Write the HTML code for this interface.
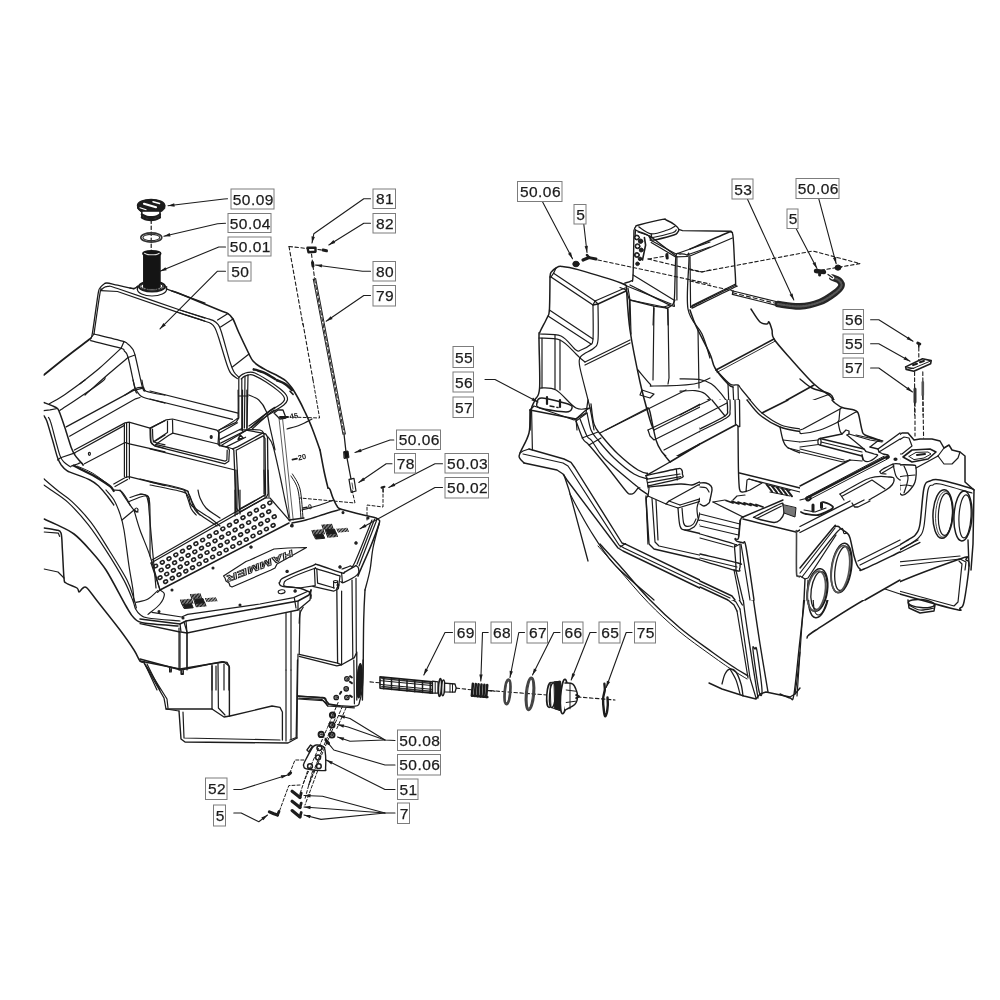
<!DOCTYPE html>
<html><head><meta charset="utf-8"><title>Parts diagram</title>
<style>
html,body{margin:0;padding:0;background:#fff}
svg{display:block;filter:grayscale(1)}
text{font-family:"Liberation Sans",sans-serif;font-size:15.5px;fill:#1c1c1c}
.lb text{letter-spacing:0.45px;stroke:#1c1c1c;stroke-width:0.25px}
.lb rect{stroke-linejoin:miter}
path,ellipse,rect{stroke-linejoin:round;stroke-linecap:round}
</style></head><body>
<svg width="1000" height="1000" viewBox="0 0 1000 1000">
<rect x="0" y="0" width="1000" height="1000" fill="#fff" stroke="none"/>
<g>
<path d="M43.8 375 C47.3 372.2 58.6 363 65 358 C71.4 353 77.7 348.2 82 345 C86.3 341.8 89.2 339.6 90.6 338.5" fill="none" stroke="#1c1c1c" stroke-width="1.8"/>
<path d="M90.6 338.5 C90.9 337.5 91.2 340 92.5 332.5 C93.8 325 96.9 301.1 98.1 293.8 C99.4 286.4 99.2 289.6 100 288.1 C100.8 286.6 102 285.6 103.1 284.8 C104.3 283.9 104.5 282.9 106.9 283 C109.3 283.1 113 284.3 117.5 285.2 C122 286.2 131 288.2 133.8 288.8" fill="none" stroke="#1c1c1c" stroke-width="1.3"/>
<path d="M166.2 288.8 L205 303.1" fill="none" stroke="#1c1c1c" stroke-width="1.3"/>
<path d="M94 334 C95 327.2 98.7 300.6 100 293.1 C101.3 285.7 101 290.4 101.9 289.4 C102.7 288.4 103.9 287.5 105 287 C106.1 286.5 106.7 286.1 108.8 286.4 C110.8 286.6 105.6 284.6 117.5 288.5 C129.4 292.4 165.4 305.1 180 310 C194.6 314.9 200.8 316.8 205 318.1" fill="none" stroke="#1c1c1c" stroke-width="1.2"/>
<path d="M101 290.6 L117.5 291.5 L180 313.1 L205 321.2" fill="none" stroke="#1c1c1c" stroke-width="1.2"/>
<path d="M94 334 C98.8 335.2 116.9 339.6 122.5 341.2 C128.1 342.9 125.9 342.6 127.5 343.8 C129.1 344.9 130.6 346.2 131.9 348.1 C133.1 350 133.2 348.4 135 355 C136.8 361.6 140.8 381.6 142.5 387.5 C144.2 393.4 144.6 390.1 145 390.6" fill="none" stroke="#1c1c1c" stroke-width="1.2"/>
<path d="M90.6 340.6 C95.6 341.9 115 346.4 120.6 348.1 C126.2 349.9 123.1 349.7 124.4 351.2 C125.6 352.8 126.4 351.2 128.1 357.5 C129.9 363.8 133.5 382.8 135 388.8 C136.5 394.7 136.6 392.4 136.9 393.1" fill="none" stroke="#1c1c1c" stroke-width="1.2"/>
<path d="M123.8 341.9 L121.2 348.1" fill="none" stroke="#1c1c1c" stroke-width="1.2"/>
<path d="M135 355 L128.1 357.5" fill="none" stroke="#1c1c1c" stroke-width="1.2"/>
<path d="M90.6 338.5 L94 334" fill="none" stroke="#1c1c1c" stroke-width="1.2"/>
<path d="M80 383.8 C83.1 381.2 91.9 374.7 98.8 368.8 C105.6 362.8 117.5 351.6 121.2 348.1" fill="none" stroke="#1c1c1c" stroke-width="1.2"/>
<path d="M85 395 C89 391.5 101.6 380 108.8 373.8 C115.9 367.5 124.9 360.2 128.1 357.5" fill="none" stroke="#1c1c1c" stroke-width="1.2"/>
<path d="M125 395 C126.7 394 132.1 390 135 388.8 C137.9 387.5 140.8 387.2 142.5 387.5 C144.2 387.8 144.6 390.1 145 390.6" fill="none" stroke="#1c1c1c" stroke-width="1.2"/>
<path d="M172 291 C173.3 291.5 172.2 290.6 180 293.8 C187.8 297 211 306.7 219 310 C227 313.3 225.7 312.1 228 313.6 C230.3 315.1 231.2 315.8 233 319 C234.8 322.2 236.3 327.2 239 333 C241.7 338.8 246.7 349.3 249 354 C251.3 358.7 251.3 359 253 361 C254.7 363 256.5 364.3 259 366 C261.5 367.7 264.8 369.3 268 371 C271.2 372.7 275 374.3 278 376 C281 377.7 283.7 379 286 381 C288.3 383 290 385.2 292 388 C294 390.8 295.8 394 298 398 C300.2 402 302.7 407 305 412 C307.3 417 309.5 421.7 312 428 C314.5 434.3 318.7 446.3 320 450" fill="none" stroke="#1c1c1c" stroke-width="1.6"/>
<path d="M180 310 C184.2 311.3 199.5 316.1 205 317.8 C210.5 319.5 210.8 319.3 213 320.4 C215.2 321.5 216.6 322.5 218 324.4 C219.4 326.3 219.4 325.7 221.4 332 C223.4 338.3 227.9 355.3 230 362 C232.1 368.7 232.5 369.4 234 372 C235.5 374.6 238.2 376.5 239 377.4" fill="none" stroke="#1c1c1c" stroke-width="1.2"/>
<path d="M180 313 C184.2 314.4 199.8 319.4 205 321.2 C210.2 323 209.3 322.5 211 323.6 C212.7 324.7 213.8 325.8 215 328 C216.2 330.2 216.3 330.7 218.4 337 C220.5 343.3 225.2 359.8 227.4 366 C229.6 372.2 229.7 371.9 231.4 374 C233.1 376.1 236.4 377.8 237.4 378.6" fill="none" stroke="#1c1c1c" stroke-width="1.2"/>
<path d="M228 313.6 L217.6 320" fill="none" stroke="#1c1c1c" stroke-width="1.2"/>
<path d="M233 319 L220.6 327" fill="none" stroke="#1c1c1c" stroke-width="1.2"/>
<path d="M249 354 L232.4 367" fill="none" stroke="#1c1c1c" stroke-width="1.2"/>
<path d="M238.8 377.4 C239.4 376.9 240.9 375.2 242.4 374.4 C243.9 373.6 245.9 372.6 248 372.4 C250.1 372.2 251.8 371.7 255 373 C258.2 374.3 263.2 377.4 267.4 380 C271.6 382.6 276.9 386.3 280 388.8 C283.1 391.3 285 393.1 286.2 395 C287.4 396.9 287.8 398.3 287.4 400 C287 401.7 286.7 402.7 283.8 405 C280.9 407.3 272.3 412.3 270 413.8" fill="none" stroke="#1c1c1c" stroke-width="1.2"/>
<path d="M241.2 379 C241.7 378.6 243.1 377.1 244.4 376.4 C245.7 375.7 247.3 374.9 249 374.8 C250.7 374.7 251.6 374.4 254.4 375.6 C257.2 376.8 262.1 379.5 266 382 C269.9 384.5 275.1 388.3 278 390.6 C280.9 392.9 282.3 394.4 283.4 396 C284.5 397.6 284.8 398.7 284.4 400 C284 401.3 283.6 402.1 281 404 C278.4 405.9 271 410.3 269 411.6" fill="none" stroke="#1c1c1c" stroke-width="1.2"/>
<path d="M238.8 378 L238.8 418 L236 422.4 L219 430 L218 444" fill="none" stroke="#1c1c1c" stroke-width="1.2"/>
<path d="M241.8 379 L241.8 430" fill="none" stroke="#1c1c1c" stroke-width="1.2"/>
<path d="M245 376.4 L244.4 428" fill="none" stroke="#1c1c1c" stroke-width="1.2"/>
<path d="M248 374.8 L247 428" fill="none" stroke="#1c1c1c" stroke-width="1.2"/>
<path d="M238.8 396 L248 396" fill="none" stroke="#1c1c1c" stroke-width="1.2"/>
<path d="M270 413.8 L247 430 L222 445" fill="none" stroke="#1c1c1c" stroke-width="1.2"/>
<path d="M269 411.6 L249 426" fill="none" stroke="#1c1c1c" stroke-width="1.2"/>
<path d="M43.8 402.5 C45.1 403 49.6 404.6 51.9 405.6 C54.2 406.6 56.2 407.2 57.5 408.5 C58.8 409.8 58.5 409.9 59.8 413.1 C61 416.4 63.1 422.4 65 428.1 C66.9 433.9 69.6 443.1 71.2 447.5 C72.9 451.9 73.3 452.5 74.8 454.8 C76.2 457 78.4 459.3 79.8 461 C81.1 462.7 82.6 464.3 83.1 465" fill="none" stroke="#1c1c1c" stroke-width="1.5"/>
<path d="M43.8 410.6 L50 409.8 L57.5 408.5" fill="none" stroke="#1c1c1c" stroke-width="1.2"/>
<path d="M43.8 415.6 C44.3 416.6 45.4 417.2 46.9 421.2 C48.3 425.3 50.7 434 52.5 440 C54.3 446 56 453.3 57.5 457.5 C59 461.7 59.7 462.8 61.2 465 C62.8 467.2 65 469.3 66.9 470.6 C68.8 472 68.6 471.6 72.5 473.1 C76.4 474.7 85.6 477.8 90 480 C94.4 482.2 95.8 483.5 98.8 486.2 C101.7 489 105 493.1 107.5 496.2 C110 499.4 112.7 503.5 113.8 505" fill="none" stroke="#1c1c1c" stroke-width="1.4"/>
<path d="M48.5 417.5 C48.9 418.2 49.5 418.3 50.6 421.9 C51.8 425.4 53.7 433.1 55.2 438.8 C56.8 444.4 58.6 451.8 60 455.6 C61.4 459.5 62 460 63.8 461.9 C65.5 463.8 69.5 466 70.6 466.9" fill="none" stroke="#1c1c1c" stroke-width="1.2"/>
<path d="M57.5 460 L60.6 457.8 L75 452.9" fill="none" stroke="#1c1c1c" stroke-width="1.2"/>
<path d="M49.4 403.8 C52 402.2 59.1 398.3 65 394.4 C70.9 390.4 81.7 382.4 85 380" fill="none" stroke="#1c1c1c" stroke-width="1.2"/>
<path d="M59.8 410.6 C63.3 408.2 74.1 401.1 81.2 396.2 C88.4 391.4 98.5 384.4 102.5 381.2 C106.5 378.1 104.6 378.1 105 377.5" fill="none" stroke="#1c1c1c" stroke-width="1.2"/>
<path d="M66.2 426.9 L133.1 390.6 L143.8 387.8" fill="none" stroke="#1c1c1c" stroke-width="1.2"/>
<path d="M69.6 436.2 L135.6 398.8 L140 397.5" fill="none" stroke="#1c1c1c" stroke-width="1.2"/>
<path d="M133.1 380 C133.4 381.2 134.1 385.2 135 387.5 C135.9 389.8 137.3 392.1 138.8 393.8 C140.2 395.4 139.4 395.9 143.8 397.5 C148.1 399.1 161.5 402.2 165 403.1" fill="none" stroke="#1c1c1c" stroke-width="1.2"/>
<path d="M141.9 380 C142.1 381.2 142.8 385.6 143.5 387.5 C144.2 389.4 142.7 390 146.2 391.2 C149.8 392.5 161.9 394.6 165 395.2" fill="none" stroke="#1c1c1c" stroke-width="1.2"/>
<path d="M74.4 450 L125 422.9 L129 422.2 L150 428.1 L165 420.6" fill="none" stroke="#1c1c1c" stroke-width="1.2"/>
<path d="M75.2 452.5 L124 425.6" fill="none" stroke="#1c1c1c" stroke-width="1.2"/>
<path d="M124.4 423.8 L124.4 476.5" fill="none" stroke="#1c1c1c" stroke-width="1.2"/>
<path d="M126.6 423.1 L126.6 477.5" fill="none" stroke="#1c1c1c" stroke-width="1.2"/>
<path d="M129.4 423.1 L129.4 478.8" fill="none" stroke="#1c1c1c" stroke-width="1.2"/>
<path d="M84.4 463.8 L125 442.5 L129.4 443.8 L165 451.9" fill="none" stroke="#1c1c1c" stroke-width="1.2"/>
<path d="M113.8 484 L126.2 476.9 L130 476.9 L165 485.6" fill="none" stroke="#1c1c1c" stroke-width="1.2"/>
<path d="M115 486.5 L127.5 479.5" fill="none" stroke="#1c1c1c" stroke-width="1.2"/>
<ellipse cx="89.4" cy="453.8" rx="1" ry="1.5" fill="none" stroke="#1c1c1c" stroke-width="1.2"/>
<path d="M150 428.1 C150.1 430.3 150 438.4 150.6 441.2 C151.2 444.1 151.4 443.8 153.8 445 C156.1 446.2 163.1 447.9 165 448.5" fill="none" stroke="#1c1c1c" stroke-width="1.2"/>
<path d="M152.5 429 C152.6 430.8 152.6 437.8 153.1 440 C153.6 442.2 153.6 441.7 155.6 442.5 C157.6 443.3 163.4 444.4 165 444.8" fill="none" stroke="#1c1c1c" stroke-width="1.2"/>
<path d="M165 435 L155 441.2" fill="none" stroke="#1c1c1c" stroke-width="1.2"/>
<path d="M73.5 465.6 C74.8 466.2 78.1 467.8 81.2 469.4 C84.4 470.9 89.6 473.4 92.5 475 C95.4 476.6 95.8 476.9 98.8 478.8 C101.7 480.6 107.5 484.2 110 486.2 C112.5 488.3 113.1 490.2 113.8 491" fill="none" stroke="#1c1c1c" stroke-width="2.2"/>
<path d="M71.2 466.2 C72.3 465.9 75.8 464.6 77.5 464 C79.2 463.4 80.3 462.3 81.2 462.5 C82.2 462.7 82.8 464.6 83.1 465" fill="none" stroke="#1c1c1c" stroke-width="1.2"/>
<path d="M77.5 466.2 C80 467.4 87.5 470.2 92.5 473.1 C97.5 476 105 482 107.5 483.8" fill="none" stroke="#1c1c1c" stroke-width="1.0"/>
<path d="M113.8 490 C115 490.2 119 489.6 121.2 491.2 C123.5 492.9 126 497.7 127.5 500 C129 502.3 129.6 504.2 130 505" fill="none" stroke="#1c1c1c" stroke-width="1.2"/>
<path d="M130 497.5 C131.7 497 137.3 494.7 140 494.4 C142.7 494.1 144.8 493.9 146.2 495.6 C147.7 497.4 148.3 503.4 148.8 505" fill="none" stroke="#1c1c1c" stroke-width="1.2"/>
<path d="M150 391 L238.1 413.1" fill="none" stroke="#1c1c1c" stroke-width="1.2"/>
<path d="M150 399 L232.5 419.4" fill="none" stroke="#1c1c1c" stroke-width="1.2"/>
<path d="M238.1 390 C238.1 394.1 238.4 409.5 238.1 414.4 C237.8 419.3 239.5 416.7 236.2 419.4 C233 422 221.7 428.4 218.8 430.2" fill="none" stroke="#1c1c1c" stroke-width="1.2"/>
<path d="M242.5 390 L242.5 431.2" fill="none" stroke="#1c1c1c" stroke-width="1.2"/>
<path d="M246.9 390 L246.9 430" fill="none" stroke="#1c1c1c" stroke-width="1.2"/>
<path d="M150.6 428.1 L166.2 419.8 L172.5 419 L216.9 430.2 L219 432.5 L219.4 445.6" fill="none" stroke="#1c1c1c" stroke-width="1.2"/>
<path d="M150.6 428.1 L151 442.5 L155 446.2 L225 463.8 L228.8 461.2 L229.4 449.8 L227.5 447.5 L219.4 445.6" fill="none" stroke="#1c1c1c" stroke-width="1.2"/>
<path d="M167.5 421.2 L167.5 432.5 L153.1 441.9" fill="none" stroke="#1c1c1c" stroke-width="1.2"/>
<path d="M172.5 420 L172.8 433.1 L218.1 444 L219.4 445.6" fill="none" stroke="#1c1c1c" stroke-width="1.2"/>
<path d="M172.8 433.1 L168.8 435.2 L155.6 444.4 L225 461.2 L226.9 460 L227.2 450" fill="none" stroke="#1c1c1c" stroke-width="1.2"/>
<ellipse cx="211.2" cy="437.1" rx="1" ry="1.4" fill="#333" stroke="#1c1c1c" stroke-width="1.2"/>
<path d="M150 448.8 L235 470" fill="none" stroke="#1c1c1c" stroke-width="1.2"/>
<path d="M232.5 448.8 L237.5 446.9 L262.5 433.1 L265.6 433.8 L267.5 436.9 L268.1 493.8 L266.2 497.5 L240 511.9 L237.5 510 L236.2 507.5 L233.8 450 L232.5 448.8" fill="none" stroke="#1c1c1c" stroke-width="1.3"/>
<path d="M236.2 450.2 L263.1 435.9 L265 438.4 L265.6 494.8 L239.4 509.1 L236.2 450.2" fill="none" stroke="#1c1c1c" stroke-width="1.2"/>
<path d="M220 445 L232.5 448.8" fill="none" stroke="#1c1c1c" stroke-width="1.2"/>
<path d="M219.4 433.1 L237.5 422.8" fill="none" stroke="#1c1c1c" stroke-width="1.2"/>
<path d="M220 439.4 L241.9 428.5" fill="none" stroke="#1c1c1c" stroke-width="1.2"/>
<path d="M220.6 443.1 L246.2 430.2 L262.5 433.1" fill="none" stroke="#1c1c1c" stroke-width="1.2"/>
<path d="M226.2 446.9 L245.6 437.2" fill="none" stroke="#1c1c1c" stroke-width="1.2"/>
<path d="M238.1 439.4 L240.2 435 L243.1 438.1 L238.1 439.4" fill="none" stroke="#1c1c1c" stroke-width="1.5"/>
<path d="M248.8 395 C250.4 395.8 255.8 397.3 258.8 400 C261.7 402.7 264.4 406.7 266.2 411.2 C268.1 415.8 268.5 421 270 427.5 C271.5 434 274.2 446.2 275 450" fill="none" stroke="#1c1c1c" stroke-width="1.2"/>
<path d="M251.2 427.5 C253.1 425.7 259.4 419.7 262.5 416.9 C265.6 414.1 267.9 412.2 270 410.6 C272.1 409.1 274.2 408 275 407.5" fill="none" stroke="#1c1c1c" stroke-width="1.6"/>
<path d="M252.5 428.8 C254.4 427 260.7 421.2 263.8 418.5 C266.8 415.8 268.8 413.9 270.6 412.5 C272.5 411.1 274.3 410.4 275 410" fill="none" stroke="#1c1c1c" stroke-width="1.2"/>
<path d="M150 481.9 C155.6 483.2 177.3 488 183.8 490 C190.2 492 187.3 491.7 188.8 493.8 C190.2 495.8 191 499.5 192.5 502.5 C194 505.5 196.2 509.8 197.5 511.9 C198.8 514 199.6 514.5 200 515" fill="none" stroke="#1c1c1c" stroke-width="1.2"/>
<path d="M150 485 C155.4 486.1 176.4 490 182.5 491.9 C188.6 493.8 185.4 493.4 186.9 496.2 C188.3 499.1 189.7 505.6 191.2 508.8 C192.8 511.9 195.4 514 196.2 515" fill="none" stroke="#1c1c1c" stroke-width="1.2"/>
<path d="M43.8 485 C45 485.8 47 487.1 51 490 C55 492.9 61.8 496.7 68 502.4 C74.2 508.1 81.7 516.4 88 524.4 C94.3 532.4 100 541.1 106 550.4 C112 559.7 119.5 572 124 580.4 C128.5 588.8 131.1 596.2 133 601 C134.9 605.8 134.4 606.8 135.6 609 C136.8 611.2 137.9 612.9 140 614.4 C142.1 615.9 141.3 616.9 148 618 C154.7 619.1 174.7 620.5 180 621" fill="none" stroke="#1c1c1c" stroke-width="1.2"/>
<path d="M43.8 478.8 C46 480.7 52.3 486.2 57 490 C61.7 493.8 66.3 496.2 72 501.6 C77.7 507 84.8 514.3 91 522.4 C97.2 530.5 103 540.4 109 550 C115 559.6 122.8 571.8 127 580 C131.2 588.2 132.4 594.3 134 599 C135.6 603.7 136 606.5 136.4 608" fill="none" stroke="#1c1c1c" stroke-width="1.2"/>
<path d="M44 519 C46 519.9 51 521.9 56 524.4 C61 526.9 68.3 529.7 74 534 C79.7 538.3 84.7 544 90 550 C95.3 556 100 560.7 106 570 C112 579.3 121.3 598 126 606 C130.7 614 131 615.2 134 618 C137 620.8 136.7 621.7 144 623 C151.3 624.3 172.3 625.5 178 626" fill="none" stroke="#1c1c1c" stroke-width="1.6"/>
<path d="M184 622 L187 632" fill="none" stroke="#1c1c1c" stroke-width="1.2"/>
<path d="M44 528 C46 528.3 53.2 529.2 56 530 C58.8 530.8 59.9 529.7 61 533 C62.1 536.3 61.9 542.5 62.4 550 C62.9 557.5 63.4 572.5 64 578 C64.6 583.5 63.8 581.3 66 583 C68.2 584.7 74.8 586.5 77 588 C79.2 589.5 78 592 79 592 C80 592 81.7 588.7 83 588 C84.3 587.3 84.5 585.7 87 588 C89.5 590.3 92.5 595 98 602 C103.5 609 114 622 120 630 C126 638 130.7 644.8 134 650 C137.3 655.2 138.3 659 140 661 C141.7 663 143.3 661.8 144 662" fill="none" stroke="#1c1c1c" stroke-width="1.5"/>
<path d="M44 532 L58.4 533.2 L59.6 536.4" fill="none" stroke="#1c1c1c" stroke-width="1.2"/>
<path d="M44 569 L58 572 L64 578" fill="none" stroke="#1c1c1c" stroke-width="1.2"/>
<path d="M140 661 L180 669 L210 664 L224 662 L229 666 L229 690" fill="none" stroke="#1c1c1c" stroke-width="1.3"/>
<path d="M144 662 L157 690" fill="none" stroke="#1c1c1c" stroke-width="1.2"/>
<path d="M147 664 L160 690" fill="none" stroke="#1c1c1c" stroke-width="1.2"/>
<path d="M179 628 L179 670" fill="none" stroke="#1c1c1c" stroke-width="1.2"/>
<path d="M187 632.4 L187 668" fill="none" stroke="#1c1c1c" stroke-width="1.2"/>
<path d="M169.6 667.6 L169.6 671 L171.2 671 L171.2 668" fill="none" stroke="#1c1c1c" stroke-width="1.2"/>
<path d="M181.2 670 L181.2 673.6 L183.2 673.6 L183.2 670.4" fill="none" stroke="#1c1c1c" stroke-width="1.2"/>
<path d="M212 666 L212 690" fill="none" stroke="#1c1c1c" stroke-width="1.2"/>
<path d="M216 666 L216 690" fill="none" stroke="#1c1c1c" stroke-width="1.2"/>
<path d="M224 664 L224 690" fill="none" stroke="#1c1c1c" stroke-width="1.2"/>
<path d="M106 490 C107.3 491.7 111.7 496 114 500 C116.3 504 118.3 509 120 514 C121.7 519 122.5 521.3 124 530 C125.5 538.7 127.5 556 129 566 C130.5 576 132.2 584 133 590 C133.8 596 133.8 600 134 602" fill="none" stroke="#1c1c1c" stroke-width="1.2"/>
<path d="M120 490 C121.3 492 125.7 498.7 128 502 C130.3 505.3 132.3 508.3 134 510 C135.7 511.7 137.3 511.7 138 512" fill="none" stroke="#1c1c1c" stroke-width="1.2"/>
<path d="M134 510 C135 513.3 137.3 522.3 140 530 C142.7 537.7 146.7 546 150 556 C153.3 566 158.3 584.3 160 590" fill="none" stroke="#1c1c1c" stroke-width="1.2"/>
<path d="M122 520 L134 510" fill="none" stroke="#1c1c1c" stroke-width="1.2"/>
<path d="M128 502 C130.7 501 140.5 496.5 144 496 C147.5 495.5 148 496 149 499 C150 502 149.8 504.5 150 514 C150.2 523.5 150 549 150 556" fill="none" stroke="#1c1c1c" stroke-width="1.2"/>
<ellipse cx="136.4" cy="510" rx="1.6" ry="2" fill="none" stroke="#1c1c1c" stroke-width="1.2"/>
<path d="M160 590 C160.7 590.7 164.4 591.7 164.4 594 C164.4 596.3 162.7 600.6 160 604 C157.3 607.4 150 612.7 148 614.4" fill="none" stroke="#1c1c1c" stroke-width="1.2"/>
<path d="M136 602.4 C138 601.8 144.3 601 148 599 C151.7 597 156.3 591.8 158 590.4" fill="none" stroke="#1c1c1c" stroke-width="1.2"/>
<path d="M184 490 C184.8 491.3 187.7 495.3 189 498 C190.3 500.7 188.5 502.7 192 506 C195.5 509.3 205.3 514.7 210 518 C214.7 521.3 218.3 524.7 220 526" fill="none" stroke="#1c1c1c" stroke-width="1.2"/>
<path d="M198 490 C198.3 491.3 198.7 495 200 498 C201.3 501 202.7 504.7 206 508 C209.3 511.3 217.7 516.3 220 518" fill="none" stroke="#1c1c1c" stroke-width="1.2"/>
<path d="M235 490 L235 516" fill="none" stroke="#1c1c1c" stroke-width="1.2"/>
<path d="M240 490 L240 514" fill="none" stroke="#1c1c1c" stroke-width="1.2"/>
<path d="M151 563 L265 498 L270 498 L290 521" fill="none" stroke="#1c1c1c" stroke-width="1.2"/>
<path d="M152 560 L264 495.6" fill="none" stroke="#1c1c1c" stroke-width="1.2"/>
<path d="M160 590 L289 523" fill="none" stroke="#1c1c1c" stroke-width="1.6"/>
<path d="M151 563 L160 590" fill="none" stroke="#1c1c1c" stroke-width="1.2"/>
<path d="M157.6 592.4 L160 590" fill="none" stroke="#1c1c1c" stroke-width="1.2"/>
<ellipse cx="155.6" cy="566" rx="2" ry="1.6" fill="none" stroke="#222" stroke-width="1.6" transform="rotate(-28 155.6 566)"/>
<ellipse cx="162.3" cy="562.3" rx="2" ry="1.6" fill="none" stroke="#222" stroke-width="1.6" transform="rotate(-28 162.3 562.3)"/>
<ellipse cx="169" cy="558.6" rx="2" ry="1.6" fill="none" stroke="#222" stroke-width="1.6" transform="rotate(-28 169 558.6)"/>
<ellipse cx="175.8" cy="554.8" rx="2" ry="1.6" fill="none" stroke="#222" stroke-width="1.6" transform="rotate(-28 175.8 554.8)"/>
<ellipse cx="182.5" cy="551.1" rx="2" ry="1.6" fill="none" stroke="#222" stroke-width="1.6" transform="rotate(-28 182.5 551.1)"/>
<ellipse cx="189.2" cy="547.4" rx="2" ry="1.6" fill="none" stroke="#222" stroke-width="1.6" transform="rotate(-28 189.2 547.4)"/>
<ellipse cx="195.9" cy="543.7" rx="2" ry="1.6" fill="none" stroke="#222" stroke-width="1.6" transform="rotate(-28 195.9 543.7)"/>
<ellipse cx="202.6" cy="540" rx="2" ry="1.6" fill="none" stroke="#222" stroke-width="1.6" transform="rotate(-28 202.6 540)"/>
<ellipse cx="209.4" cy="536.2" rx="2" ry="1.6" fill="none" stroke="#222" stroke-width="1.6" transform="rotate(-28 209.4 536.2)"/>
<ellipse cx="216.1" cy="532.5" rx="2" ry="1.6" fill="none" stroke="#222" stroke-width="1.6" transform="rotate(-28 216.1 532.5)"/>
<ellipse cx="222.8" cy="528.8" rx="2" ry="1.6" fill="none" stroke="#222" stroke-width="1.6" transform="rotate(-28 222.8 528.8)"/>
<ellipse cx="229.5" cy="525.1" rx="2" ry="1.6" fill="none" stroke="#222" stroke-width="1.6" transform="rotate(-28 229.5 525.1)"/>
<ellipse cx="236.2" cy="521.4" rx="2" ry="1.6" fill="none" stroke="#222" stroke-width="1.6" transform="rotate(-28 236.2 521.4)"/>
<ellipse cx="243" cy="517.6" rx="2" ry="1.6" fill="none" stroke="#222" stroke-width="1.6" transform="rotate(-28 243 517.6)"/>
<ellipse cx="249.7" cy="513.9" rx="2" ry="1.6" fill="none" stroke="#222" stroke-width="1.6" transform="rotate(-28 249.7 513.9)"/>
<ellipse cx="256.4" cy="510.2" rx="2" ry="1.6" fill="none" stroke="#222" stroke-width="1.6" transform="rotate(-28 256.4 510.2)"/>
<ellipse cx="263.1" cy="506.5" rx="2" ry="1.6" fill="none" stroke="#222" stroke-width="1.6" transform="rotate(-28 263.1 506.5)"/>
<ellipse cx="269.8" cy="502.8" rx="2" ry="1.6" fill="none" stroke="#222" stroke-width="1.6" transform="rotate(-28 269.8 502.8)"/>
<ellipse cx="161.2" cy="570" rx="2" ry="1.6" fill="none" stroke="#222" stroke-width="1.6" transform="rotate(-28 161.2 570)"/>
<ellipse cx="167.9" cy="566.4" rx="2" ry="1.6" fill="none" stroke="#222" stroke-width="1.6" transform="rotate(-28 167.9 566.4)"/>
<ellipse cx="174.6" cy="562.7" rx="2" ry="1.6" fill="none" stroke="#222" stroke-width="1.6" transform="rotate(-28 174.6 562.7)"/>
<ellipse cx="181.4" cy="559" rx="2" ry="1.6" fill="none" stroke="#222" stroke-width="1.6" transform="rotate(-28 181.4 559)"/>
<ellipse cx="188.1" cy="555.4" rx="2" ry="1.6" fill="none" stroke="#222" stroke-width="1.6" transform="rotate(-28 188.1 555.4)"/>
<ellipse cx="194.8" cy="551.8" rx="2" ry="1.6" fill="none" stroke="#222" stroke-width="1.6" transform="rotate(-28 194.8 551.8)"/>
<ellipse cx="201.5" cy="548.1" rx="2" ry="1.6" fill="none" stroke="#222" stroke-width="1.6" transform="rotate(-28 201.5 548.1)"/>
<ellipse cx="208.2" cy="544.5" rx="2" ry="1.6" fill="none" stroke="#222" stroke-width="1.6" transform="rotate(-28 208.2 544.5)"/>
<ellipse cx="215" cy="540.8" rx="2" ry="1.6" fill="none" stroke="#222" stroke-width="1.6" transform="rotate(-28 215 540.8)"/>
<ellipse cx="221.7" cy="537.1" rx="2" ry="1.6" fill="none" stroke="#222" stroke-width="1.6" transform="rotate(-28 221.7 537.1)"/>
<ellipse cx="228.4" cy="533.5" rx="2" ry="1.6" fill="none" stroke="#222" stroke-width="1.6" transform="rotate(-28 228.4 533.5)"/>
<ellipse cx="235.1" cy="529.9" rx="2" ry="1.6" fill="none" stroke="#222" stroke-width="1.6" transform="rotate(-28 235.1 529.9)"/>
<ellipse cx="241.8" cy="526.2" rx="2" ry="1.6" fill="none" stroke="#222" stroke-width="1.6" transform="rotate(-28 241.8 526.2)"/>
<ellipse cx="248.6" cy="522.5" rx="2" ry="1.6" fill="none" stroke="#222" stroke-width="1.6" transform="rotate(-28 248.6 522.5)"/>
<ellipse cx="255.3" cy="518.9" rx="2" ry="1.6" fill="none" stroke="#222" stroke-width="1.6" transform="rotate(-28 255.3 518.9)"/>
<ellipse cx="262" cy="515.2" rx="2" ry="1.6" fill="none" stroke="#222" stroke-width="1.6" transform="rotate(-28 262 515.2)"/>
<ellipse cx="268.7" cy="511.6" rx="2" ry="1.6" fill="none" stroke="#222" stroke-width="1.6" transform="rotate(-28 268.7 511.6)"/>
<ellipse cx="160" cy="577.6" rx="2" ry="1.6" fill="none" stroke="#222" stroke-width="1.6" transform="rotate(-28 160 577.6)"/>
<ellipse cx="166.7" cy="574" rx="2" ry="1.6" fill="none" stroke="#222" stroke-width="1.6" transform="rotate(-28 166.7 574)"/>
<ellipse cx="173.4" cy="570.4" rx="2" ry="1.6" fill="none" stroke="#222" stroke-width="1.6" transform="rotate(-28 173.4 570.4)"/>
<ellipse cx="180.2" cy="566.9" rx="2" ry="1.6" fill="none" stroke="#222" stroke-width="1.6" transform="rotate(-28 180.2 566.9)"/>
<ellipse cx="186.9" cy="563.3" rx="2" ry="1.6" fill="none" stroke="#222" stroke-width="1.6" transform="rotate(-28 186.9 563.3)"/>
<ellipse cx="193.6" cy="559.7" rx="2" ry="1.6" fill="none" stroke="#222" stroke-width="1.6" transform="rotate(-28 193.6 559.7)"/>
<ellipse cx="200.3" cy="556.1" rx="2" ry="1.6" fill="none" stroke="#222" stroke-width="1.6" transform="rotate(-28 200.3 556.1)"/>
<ellipse cx="207" cy="552.5" rx="2" ry="1.6" fill="none" stroke="#222" stroke-width="1.6" transform="rotate(-28 207 552.5)"/>
<ellipse cx="213.8" cy="549" rx="2" ry="1.6" fill="none" stroke="#222" stroke-width="1.6" transform="rotate(-28 213.8 549)"/>
<ellipse cx="220.5" cy="545.4" rx="2" ry="1.6" fill="none" stroke="#222" stroke-width="1.6" transform="rotate(-28 220.5 545.4)"/>
<ellipse cx="227.2" cy="541.8" rx="2" ry="1.6" fill="none" stroke="#222" stroke-width="1.6" transform="rotate(-28 227.2 541.8)"/>
<ellipse cx="233.9" cy="538.2" rx="2" ry="1.6" fill="none" stroke="#222" stroke-width="1.6" transform="rotate(-28 233.9 538.2)"/>
<ellipse cx="240.6" cy="534.6" rx="2" ry="1.6" fill="none" stroke="#222" stroke-width="1.6" transform="rotate(-28 240.6 534.6)"/>
<ellipse cx="247.4" cy="531.1" rx="2" ry="1.6" fill="none" stroke="#222" stroke-width="1.6" transform="rotate(-28 247.4 531.1)"/>
<ellipse cx="254.1" cy="527.5" rx="2" ry="1.6" fill="none" stroke="#222" stroke-width="1.6" transform="rotate(-28 254.1 527.5)"/>
<ellipse cx="260.8" cy="523.9" rx="2" ry="1.6" fill="none" stroke="#222" stroke-width="1.6" transform="rotate(-28 260.8 523.9)"/>
<ellipse cx="267.5" cy="520.3" rx="2" ry="1.6" fill="none" stroke="#222" stroke-width="1.6" transform="rotate(-28 267.5 520.3)"/>
<ellipse cx="274.2" cy="516.7" rx="2" ry="1.6" fill="none" stroke="#222" stroke-width="1.6" transform="rotate(-28 274.2 516.7)"/>
<ellipse cx="165.6" cy="581.6" rx="2" ry="1.6" fill="none" stroke="#222" stroke-width="1.6" transform="rotate(-28 165.6 581.6)"/>
<ellipse cx="172.3" cy="578.1" rx="2" ry="1.6" fill="none" stroke="#222" stroke-width="1.6" transform="rotate(-28 172.3 578.1)"/>
<ellipse cx="179" cy="574.6" rx="2" ry="1.6" fill="none" stroke="#222" stroke-width="1.6" transform="rotate(-28 179 574.6)"/>
<ellipse cx="185.8" cy="571.1" rx="2" ry="1.6" fill="none" stroke="#222" stroke-width="1.6" transform="rotate(-28 185.8 571.1)"/>
<ellipse cx="192.5" cy="567.6" rx="2" ry="1.6" fill="none" stroke="#222" stroke-width="1.6" transform="rotate(-28 192.5 567.6)"/>
<ellipse cx="199.2" cy="564" rx="2" ry="1.6" fill="none" stroke="#222" stroke-width="1.6" transform="rotate(-28 199.2 564)"/>
<ellipse cx="205.9" cy="560.5" rx="2" ry="1.6" fill="none" stroke="#222" stroke-width="1.6" transform="rotate(-28 205.9 560.5)"/>
<ellipse cx="212.6" cy="557" rx="2" ry="1.6" fill="none" stroke="#222" stroke-width="1.6" transform="rotate(-28 212.6 557)"/>
<ellipse cx="219.4" cy="553.5" rx="2" ry="1.6" fill="none" stroke="#222" stroke-width="1.6" transform="rotate(-28 219.4 553.5)"/>
<ellipse cx="226.1" cy="550" rx="2" ry="1.6" fill="none" stroke="#222" stroke-width="1.6" transform="rotate(-28 226.1 550)"/>
<ellipse cx="232.8" cy="546.5" rx="2" ry="1.6" fill="none" stroke="#222" stroke-width="1.6" transform="rotate(-28 232.8 546.5)"/>
<ellipse cx="239.5" cy="543" rx="2" ry="1.6" fill="none" stroke="#222" stroke-width="1.6" transform="rotate(-28 239.5 543)"/>
<ellipse cx="246.2" cy="539.5" rx="2" ry="1.6" fill="none" stroke="#222" stroke-width="1.6" transform="rotate(-28 246.2 539.5)"/>
<ellipse cx="253" cy="536" rx="2" ry="1.6" fill="none" stroke="#222" stroke-width="1.6" transform="rotate(-28 253 536)"/>
<ellipse cx="259.7" cy="532.5" rx="2" ry="1.6" fill="none" stroke="#222" stroke-width="1.6" transform="rotate(-28 259.7 532.5)"/>
<ellipse cx="266.4" cy="529" rx="2" ry="1.6" fill="none" stroke="#222" stroke-width="1.6" transform="rotate(-28 266.4 529)"/>
<ellipse cx="273.1" cy="525.4" rx="2" ry="1.6" fill="none" stroke="#222" stroke-width="1.6" transform="rotate(-28 273.1 525.4)"/>
<path d="M152 612.4 L181.6 617 L187.6 614.4 L260 604 L293.6 597.6 L308 591.2" fill="none" stroke="#1c1c1c" stroke-width="1.2"/>
<path d="M140 619 L180 624 L186 621 L298 601 L309 595 L311 590" fill="none" stroke="#1c1c1c" stroke-width="1.6"/>
<path d="M180 624 L181 632 L187 633 L298 610 L310 600 L311 590" fill="none" stroke="#1c1c1c" stroke-width="1.3"/>
<path d="M186 621 L187 633" fill="none" stroke="#1c1c1c" stroke-width="1.2"/>
<path d="M298 601 L298 610" fill="none" stroke="#1c1c1c" stroke-width="1.2"/>
<path d="M180 632 L180 670" fill="none" stroke="#1c1c1c" stroke-width="1.2"/>
<path d="M187 633 L187 670" fill="none" stroke="#1c1c1c" stroke-width="1.2"/>
<path d="M286 613 L286 670" fill="none" stroke="#1c1c1c" stroke-width="1.2"/>
<path d="M291 612 L291 670" fill="none" stroke="#1c1c1c" stroke-width="1.2"/>
<path d="M300 610 L299.2 654.4" fill="none" stroke="#1c1c1c" stroke-width="1.2"/>
<ellipse cx="172" cy="590" rx="0.8" ry="0.8" fill="#222" stroke="#222" stroke-width="1.5"/>
<ellipse cx="213" cy="568" rx="0.8" ry="0.8" fill="#222" stroke="#222" stroke-width="1.5"/>
<ellipse cx="251" cy="547" rx="0.8" ry="0.8" fill="#222" stroke="#222" stroke-width="1.5"/>
<ellipse cx="292" cy="525" rx="0.8" ry="0.8" fill="#222" stroke="#222" stroke-width="1.5"/>
<ellipse cx="159" cy="611.6" rx="0.8" ry="0.8" fill="#222" stroke="#222" stroke-width="1.5"/>
<ellipse cx="183" cy="618" rx="0.8" ry="0.8" fill="#222" stroke="#222" stroke-width="1.5"/>
<ellipse cx="240" cy="605" rx="0.8" ry="0.8" fill="#222" stroke="#222" stroke-width="1.5"/>
<ellipse cx="287" cy="571.4" rx="0.8" ry="0.8" fill="#222" stroke="#222" stroke-width="1.5"/>
<ellipse cx="295" cy="591" rx="0.8" ry="0.8" fill="#222" stroke="#222" stroke-width="1.5"/>
<ellipse cx="338" cy="585" rx="0.8" ry="0.8" fill="#222" stroke="#222" stroke-width="1.5"/>
<path d="M190.5 594.5 L191.9 598.7" fill="none" stroke="#1c1c1c" stroke-width="1.1"/>
<path d="M191.9 594.4 L193.3 598.6" fill="none" stroke="#1c1c1c" stroke-width="1.1"/>
<path d="M193.2 594.3 L194.6 598.5" fill="none" stroke="#1c1c1c" stroke-width="1.1"/>
<path d="M194.6 594.2 L196 598.4" fill="none" stroke="#1c1c1c" stroke-width="1.1"/>
<path d="M195.9 594.1 L197.3 598.3" fill="none" stroke="#1c1c1c" stroke-width="1.1"/>
<path d="M197.3 594 L198.7 598.2" fill="none" stroke="#1c1c1c" stroke-width="1.1"/>
<path d="M198.6 593.8 L200 598" fill="none" stroke="#1c1c1c" stroke-width="1.1"/>
<path d="M200 593.7 L201.4 597.9" fill="none" stroke="#1c1c1c" stroke-width="1.1"/>
<path d="M180.5 600 L181.9 604.2" fill="none" stroke="#1c1c1c" stroke-width="1.1"/>
<path d="M181.9 599.9 L183.3 604.1" fill="none" stroke="#1c1c1c" stroke-width="1.1"/>
<path d="M183.2 599.8 L184.6 604" fill="none" stroke="#1c1c1c" stroke-width="1.1"/>
<path d="M184.6 599.7 L186 603.9" fill="none" stroke="#1c1c1c" stroke-width="1.1"/>
<path d="M186 599.6 L187.4 603.8" fill="none" stroke="#1c1c1c" stroke-width="1.1"/>
<path d="M187.4 599.4 L188.8 603.6" fill="none" stroke="#1c1c1c" stroke-width="1.1"/>
<path d="M188.8 599.3 L190.2 603.5" fill="none" stroke="#1c1c1c" stroke-width="1.1"/>
<path d="M190.1 599.2 L191.5 603.4" fill="none" stroke="#1c1c1c" stroke-width="1.1"/>
<path d="M191.5 599.1 L192.9 603.3" fill="none" stroke="#1c1c1c" stroke-width="1.1"/>
<path d="M195 603 L196.4 606.8" fill="none" stroke="#1c1c1c" stroke-width="1.1"/>
<path d="M196.4 602.9 L197.8 606.7" fill="none" stroke="#1c1c1c" stroke-width="1.1"/>
<path d="M197.7 602.8 L199.1 606.6" fill="none" stroke="#1c1c1c" stroke-width="1.1"/>
<path d="M199.1 602.7 L200.5 606.5" fill="none" stroke="#1c1c1c" stroke-width="1.1"/>
<path d="M200.4 602.6 L201.8 606.4" fill="none" stroke="#1c1c1c" stroke-width="1.1"/>
<path d="M201.8 602.5 L203.2 606.3" fill="none" stroke="#1c1c1c" stroke-width="1.1"/>
<path d="M203.1 602.3 L204.5 606.1" fill="none" stroke="#1c1c1c" stroke-width="1.1"/>
<path d="M204.5 602.2 L205.9 606" fill="none" stroke="#1c1c1c" stroke-width="1.1"/>
<path d="M205.5 598.5 L206.9 601.7" fill="none" stroke="#1c1c1c" stroke-width="1.0"/>
<path d="M206.9 598.4 L208.3 601.6" fill="none" stroke="#1c1c1c" stroke-width="1.0"/>
<path d="M208.4 598.3 L209.8 601.5" fill="none" stroke="#1c1c1c" stroke-width="1.0"/>
<path d="M209.8 598.2 L211.2 601.4" fill="none" stroke="#1c1c1c" stroke-width="1.0"/>
<path d="M211.2 598 L212.6 601.2" fill="none" stroke="#1c1c1c" stroke-width="1.0"/>
<path d="M212.6 597.9 L214 601.1" fill="none" stroke="#1c1c1c" stroke-width="1.0"/>
<path d="M214.1 597.8 L215.5 601" fill="none" stroke="#1c1c1c" stroke-width="1.0"/>
<path d="M215.5 597.7 L216.9 600.9" fill="none" stroke="#1c1c1c" stroke-width="1.0"/>
<path d="M194 599.2 L203 598.6 L204.5 602.8 L195.5 603.4 Z" fill="#1c1c1c" stroke="#1c1c1c" stroke-width="1"/>
<path d="M182.5 604.5 L191.5 603.8 L193.2 607.8 L184.5 608.5 Z" fill="#1c1c1c" stroke="#1c1c1c" stroke-width="1"/>
<path d="M322 525 L323.4 529.2" fill="none" stroke="#1c1c1c" stroke-width="1.1"/>
<path d="M323.4 524.9 L324.8 529.1" fill="none" stroke="#1c1c1c" stroke-width="1.1"/>
<path d="M324.7 524.8 L326.1 529" fill="none" stroke="#1c1c1c" stroke-width="1.1"/>
<path d="M326.1 524.7 L327.5 528.9" fill="none" stroke="#1c1c1c" stroke-width="1.1"/>
<path d="M327.4 524.6 L328.8 528.8" fill="none" stroke="#1c1c1c" stroke-width="1.1"/>
<path d="M328.8 524.5 L330.2 528.7" fill="none" stroke="#1c1c1c" stroke-width="1.1"/>
<path d="M330.1 524.3 L331.5 528.5" fill="none" stroke="#1c1c1c" stroke-width="1.1"/>
<path d="M331.5 524.2 L332.9 528.4" fill="none" stroke="#1c1c1c" stroke-width="1.1"/>
<path d="M312 530.5 L313.4 534.7" fill="none" stroke="#1c1c1c" stroke-width="1.1"/>
<path d="M313.4 530.4 L314.8 534.6" fill="none" stroke="#1c1c1c" stroke-width="1.1"/>
<path d="M314.7 530.3 L316.1 534.5" fill="none" stroke="#1c1c1c" stroke-width="1.1"/>
<path d="M316.1 530.2 L317.5 534.4" fill="none" stroke="#1c1c1c" stroke-width="1.1"/>
<path d="M317.5 530.1 L318.9 534.3" fill="none" stroke="#1c1c1c" stroke-width="1.1"/>
<path d="M318.9 529.9 L320.3 534.1" fill="none" stroke="#1c1c1c" stroke-width="1.1"/>
<path d="M320.3 529.8 L321.7 534" fill="none" stroke="#1c1c1c" stroke-width="1.1"/>
<path d="M321.6 529.7 L323 533.9" fill="none" stroke="#1c1c1c" stroke-width="1.1"/>
<path d="M323 529.6 L324.4 533.8" fill="none" stroke="#1c1c1c" stroke-width="1.1"/>
<path d="M326.5 533.5 L327.9 537.3" fill="none" stroke="#1c1c1c" stroke-width="1.1"/>
<path d="M327.9 533.4 L329.3 537.2" fill="none" stroke="#1c1c1c" stroke-width="1.1"/>
<path d="M329.2 533.3 L330.6 537.1" fill="none" stroke="#1c1c1c" stroke-width="1.1"/>
<path d="M330.6 533.2 L332 537" fill="none" stroke="#1c1c1c" stroke-width="1.1"/>
<path d="M331.9 533.1 L333.3 536.9" fill="none" stroke="#1c1c1c" stroke-width="1.1"/>
<path d="M333.3 533 L334.7 536.8" fill="none" stroke="#1c1c1c" stroke-width="1.1"/>
<path d="M334.6 532.8 L336 536.6" fill="none" stroke="#1c1c1c" stroke-width="1.1"/>
<path d="M336 532.7 L337.4 536.5" fill="none" stroke="#1c1c1c" stroke-width="1.1"/>
<path d="M337 529 L338.4 532.2" fill="none" stroke="#1c1c1c" stroke-width="1.0"/>
<path d="M338.4 528.9 L339.8 532.1" fill="none" stroke="#1c1c1c" stroke-width="1.0"/>
<path d="M339.9 528.8 L341.3 532" fill="none" stroke="#1c1c1c" stroke-width="1.0"/>
<path d="M341.3 528.7 L342.7 531.9" fill="none" stroke="#1c1c1c" stroke-width="1.0"/>
<path d="M342.7 528.5 L344.1 531.7" fill="none" stroke="#1c1c1c" stroke-width="1.0"/>
<path d="M344.1 528.4 L345.5 531.6" fill="none" stroke="#1c1c1c" stroke-width="1.0"/>
<path d="M345.6 528.3 L347 531.5" fill="none" stroke="#1c1c1c" stroke-width="1.0"/>
<path d="M347 528.2 L348.4 531.4" fill="none" stroke="#1c1c1c" stroke-width="1.0"/>
<path d="M325.5 529.7 L334.5 529.1 L336 533.3 L327 533.9 Z" fill="#1c1c1c" stroke="#1c1c1c" stroke-width="1"/>
<path d="M314 535 L323 534.3 L324.7 538.3 L316 539 Z" fill="#1c1c1c" stroke="#1c1c1c" stroke-width="1"/>
<path d="M140 479 C147.2 480.7 174.8 486.3 183 489 C191.2 491.7 187 491.5 189 495 C191 498.5 192.8 506.5 195 510 C197.2 513.5 198.3 513.3 202 516 C205.7 518.7 214.5 524.3 217 526" fill="none" stroke="#1c1c1c" stroke-width="1.2"/>
<path d="M140 494 C141 494.2 144.5 494.3 146 495 C147.5 495.7 148.5 495.5 149 498 C149.5 500.5 147.8 495 149 510 C150.2 525 154.8 575 156 588" fill="none" stroke="#1c1c1c" stroke-width="1.2"/>
<path d="M237 470 L237 514.4" fill="none" stroke="#1c1c1c" stroke-width="1.2"/>
<path d="M235 470 L235.6 513" fill="none" stroke="#1c1c1c" stroke-width="1.2"/>
<path d="M264 470 L265 497" fill="none" stroke="#1c1c1c" stroke-width="1.2"/>
<path d="M268 470 L269 497" fill="none" stroke="#1c1c1c" stroke-width="1.2"/>
<path d="M320 450 C320.7 453.5 322.7 464.7 324 471 C325.3 477.3 327.3 485.2 328 488" fill="none" stroke="#1c1c1c" stroke-width="1.6"/>
<path d="M328 488 C328.3 488.2 329.2 487.8 330 489.5 C330.8 491.2 331.8 495.2 333 498 C334.2 500.8 335.5 504.1 337 506 C338.5 507.9 336.5 507.8 342 509.5 C347.5 511.2 364.3 515.1 370 516.5 C375.7 517.9 374.5 517.4 376 518 C377.5 518.6 378.5 519 379 520 C379.5 521 380.5 519.3 379 524 C377.5 528.7 373.2 540.2 370 548 C366.8 555.8 362 566.3 360 571 C358 575.7 358.3 575.2 358 576" fill="none" stroke="#1c1c1c" stroke-width="1.6"/>
<path d="M377 519.2 L359 566" fill="none" stroke="#1c1c1c" stroke-width="1.2"/>
<path d="M374.5 519.2 L357 564.2" fill="none" stroke="#1c1c1c" stroke-width="1.2"/>
<path d="M372 520 C369.1 527.2 358.2 555.3 354.5 563 C350.8 570.7 352.1 565 350 566 C347.9 567 343.3 568.5 342 569" fill="none" stroke="#1c1c1c" stroke-width="1.2"/>
<path d="M379 524 C378 528 374.5 540.3 373 548 C371.5 555.7 371.3 563 370 570 C368.7 577 365.8 586.7 365 590" fill="none" stroke="#1c1c1c" stroke-width="1.3"/>
<path d="M287 429 C289.2 428.3 295.8 426.7 300 425 C304.2 423.3 310 420 312 419" fill="none" stroke="#1c1c1c" stroke-width="1.2"/>
<path d="M292 523 C294.3 522.5 300 521.7 306 520 C312 518.3 322.3 514.7 328 513 C333.7 511.3 338 510.2 340 509.6" fill="none" stroke="#1c1c1c" stroke-width="1.4"/>
<path d="M302 510 C305 509.2 314.7 506.7 320 505 C325.3 503.3 331.3 500.8 333.6 500" fill="none" stroke="#1c1c1c" stroke-width="1.2"/>
<path d="M313 380 L319.6 418 L290 417" fill="none" stroke="#1c1c1c" stroke-width="1" stroke-dasharray="3 2.2"/>
<path d="M352 490 L355 503 L300 498" fill="none" stroke="#1c1c1c" stroke-width="1" stroke-dasharray="3 2.2"/>
<path d="M383 489 L383 507 L367 505 L367 520" fill="none" stroke="#1c1c1c" stroke-width="1" stroke-dasharray="3 2.2"/>
<path d="M344 434 L346 452" fill="none" stroke="#1c1c1c" stroke-width="1.3"/>
<path d="M344 451.6 L348 451 L349 457.6 L344.4 458.4 Z" fill="#111" stroke="#1c1c1c" stroke-width="1"/>
<path d="M347 458 L351 479" fill="none" stroke="#1c1c1c" stroke-width="1.3"/>
<path d="M349 479.4 L354 478.4 L356 491 L351.2 492.4 Z" fill="none" stroke="#1c1c1c" stroke-width="1.2"/>
<path d="M352 483 L353 489" fill="none" stroke="#1c1c1c" stroke-width="0.8"/>
<path d="M381.6 487.6 L384.4 486.8" fill="none" stroke="#1c1c1c" stroke-width="2.2"/>
<path d="M383 488 L383.2 492" fill="none" stroke="#1c1c1c" stroke-width="1.2"/>
<path d="M274 413 L278 410 L283 410 L286 418 L280 419 L274 413" fill="none" stroke="#1c1c1c" stroke-width="1.3"/>
<path d="M279 418 L290 520" fill="none" stroke="#333" stroke-width="0.8"/>
<path d="M282.6 419 L293.2 520" fill="none" stroke="#333" stroke-width="0.8"/>
<path d="M291 476 C292.2 478.3 296.3 483 298 490 C299.7 497 300.5 513.3 301 518" fill="none" stroke="#1c1c1c" stroke-width="1.0"/>
<path d="M292.4 474 C293.7 476.5 298.2 481.7 300 489 C301.8 496.3 302.5 513.2 303 518" fill="none" stroke="#1c1c1c" stroke-width="1.0"/>
<path d="M289 520 L304 518" fill="none" stroke="#1c1c1c" stroke-width="1.3"/>
<path d="M291 526 L292.4 526" fill="none" stroke="#1c1c1c" stroke-width="2"/>
<path d="M268 437 C268.8 438.5 271 439.5 273 446 C275 452.5 278 467 280 476 C282 485 283.5 493 285 500 C286.5 507 288.3 515 289 518" fill="none" stroke="#1c1c1c" stroke-width="1.2"/>
<path d="M264 434 C263.3 433.3 264 430.7 260 430 C256 429.3 243.3 430 240 430" fill="none" stroke="#1c1c1c" stroke-width="1.2"/>
<path d="M264 434 L264 494" fill="none" stroke="#1c1c1c" stroke-width="1.2"/>
<path d="M280 417 L288 417" fill="none" stroke="#1c1c1c" stroke-width="2"/>
<path d="M292.4 459.6 L297 458.6" fill="none" stroke="#1c1c1c" stroke-width="1.6"/>
<path d="M303 508 L307 507.2" fill="none" stroke="#1c1c1c" stroke-width="1.6"/>
<text x="290" y="419" style="font-size:7.5px;font-weight:bold" transform="rotate(-8 290 419)">45</text>
<text x="298.4" y="460.4" style="font-size:7.5px;font-weight:bold" transform="rotate(-12 298.4 460.4)">20</text>
<text x="308.4" y="509.6" style="font-size:7px;font-weight:bold" transform="rotate(-10 308.4 509.6)">0</text>
<ellipse cx="343" cy="512.6" rx="0.8" ry="0.8" fill="#222" stroke="#222" stroke-width="1.5"/>
<ellipse cx="368" cy="518" rx="0.8" ry="0.8" fill="#222" stroke="#222" stroke-width="1.5"/>
<ellipse cx="292" cy="526" rx="0.8" ry="0.8" fill="#222" stroke="#222" stroke-width="1.5"/>
<ellipse cx="356" cy="543" rx="0.8" ry="0.8" fill="#222" stroke="#222" stroke-width="1.5"/>
<ellipse cx="340" cy="567" rx="0.8" ry="0.8" fill="#222" stroke="#222" stroke-width="1.5"/>
<ellipse cx="251" cy="547" rx="0.8" ry="0.8" fill="#222" stroke="#222" stroke-width="1.5"/>
<path d="M140 623.6 L180 632" fill="none" stroke="#1c1c1c" stroke-width="1.3"/>
<path d="M286 670 L286 741" fill="none" stroke="#1c1c1c" stroke-width="1.2"/>
<path d="M291 670 L291 739" fill="none" stroke="#1c1c1c" stroke-width="1.2"/>
<path d="M298 654 C297.9 661 297.6 682 297.4 696 C297.2 710 297.1 731 297 738" fill="none" stroke="#1c1c1c" stroke-width="1.2"/>
<path d="M140 659 L181 670 L222 661.6 L227 662.4 L229.4 667 L229.4 716" fill="none" stroke="#1c1c1c" stroke-width="1.4"/>
<path d="M212 665 L212 709 L224 717 L230 716 L272 706 L280 707.4 L282.4 712 L282.4 740" fill="none" stroke="#1c1c1c" stroke-width="1.3"/>
<path d="M218 663.6 L218.4 708 L225 715" fill="none" stroke="#1c1c1c" stroke-width="1.2"/>
<path d="M144 663 L164 698 L166 709 L212 709" fill="none" stroke="#1c1c1c" stroke-width="1.3"/>
<path d="M146.4 666 L167 699 L168 708" fill="none" stroke="#1c1c1c" stroke-width="1.2"/>
<path d="M179 711 L181 739 L185 742 L288 743 L297 738" fill="none" stroke="#1c1c1c" stroke-width="1.4"/>
<path d="M183 712 L184 738 L280 740" fill="none" stroke="#1c1c1c" stroke-width="1.2"/>
<path d="M166 709 L179 711" fill="none" stroke="#1c1c1c" stroke-width="1.2"/>
<path d="M169.6 669 L169.6 672 L171.2 672 L171.2 669.4" fill="none" stroke="#1c1c1c" stroke-width="1.2"/>
<path d="M181.2 671 L181.2 674.4 L183.2 674.4 L183.2 671" fill="none" stroke="#1c1c1c" stroke-width="1.2"/>
<path d="M298 696 L324 698 L329 704 L340 706" fill="none" stroke="#1c1c1c" stroke-width="1.3"/>
<path d="M298 699 L323 700.6 L328 706" fill="none" stroke="#1c1c1c" stroke-width="1.2"/>
<path d="M310.9 598.4 L311.2 595.2 L309.6 592" fill="none" stroke="#1c1c1c" stroke-width="1.3"/>
<path d="M294.4 598.4 L296 608" fill="none" stroke="#1c1c1c" stroke-width="1.2"/>
<path d="M309.6 592 C307.9 591.3 303.7 588.9 299.2 588 C294.7 587.1 285.7 587.2 282.4 586.4 C279.1 585.6 279.6 583.9 279.2 583.2 C278.8 582.5 279.2 582.9 280 581.9 C280.8 581 278.5 580.3 284 577.6 C289.5 574.9 307.2 567.7 312.8 565.6 C318.4 563.5 312.8 563.6 317.6 564.8 C322.4 566 337.1 571.6 341.6 572.8 C346.1 574 342.4 573.2 344.8 572 C347.2 570.8 354.1 566.7 356 565.6" fill="none" stroke="#1c1c1c" stroke-width="1.4"/>
<path d="M356 565.6 C356.4 566 358.1 566.5 358.4 568 C358.7 569.5 360 572 357.6 574.4 C355.2 576.8 346.8 581.2 344 582.4 C341.2 583.6 341.3 581.7 340.8 581.6" fill="none" stroke="#1c1c1c" stroke-width="1.3"/>
<path d="M299.2 588 C296.9 587.7 288.1 587.1 285.6 586.4 C283.1 585.7 283.6 584.7 284 583.5 C284.4 582.3 283.1 581.7 288 579.2 C292.9 576.7 308.8 570.5 313.6 568.8 C318.4 567.1 312.4 567.6 316.8 568.8 C321.2 570 336.1 574.8 340 576" fill="none" stroke="#1c1c1c" stroke-width="1.2"/>
<path d="M314.4 568.8 L315.2 585.6 L299.2 588" fill="none" stroke="#1c1c1c" stroke-width="1.2"/>
<path d="M316.8 568.8 L317.6 583.2 L334.4 588" fill="none" stroke="#1c1c1c" stroke-width="1.2"/>
<path d="M312.8 586.4 L333.6 591.2 L338.4 588.8 L340 576" fill="none" stroke="#1c1c1c" stroke-width="1.2"/>
<path d="M341.6 572.8 L342.4 582.4" fill="none" stroke="#1c1c1c" stroke-width="1.2"/>
<path d="M333.6 581.9 L333.6 588" fill="none" stroke="#1c1c1c" stroke-width="1.2"/>
<path d="M337.6 581.1 L337.6 588" fill="none" stroke="#1c1c1c" stroke-width="1.2"/>
<ellipse cx="335.5" cy="581.6" rx="2.1" ry="1.1" fill="none" stroke="#1c1c1c" stroke-width="1.2"/>
<path d="M365 589.9 C364.7 594.9 364 607.5 363.7 620 C363.4 632.5 363.4 651.5 363.2 664.8 C363 678.1 362.5 694.1 362.4 700" fill="none" stroke="#1c1c1c" stroke-width="1.4"/>
<path d="M352 580 L352.8 657.6" fill="none" stroke="#1c1c1c" stroke-width="1.2"/>
<path d="M356 578.4 L356.3 652" fill="none" stroke="#1c1c1c" stroke-width="1.2"/>
<path d="M336.8 588 L337.6 663.2 L341.6 664.8 L354.4 657.6 L356.8 652 L356.8 700" fill="none" stroke="#1c1c1c" stroke-width="1.3"/>
<path d="M341.6 591.2 L341.6 664.5" fill="none" stroke="#1c1c1c" stroke-width="1.2"/>
<path d="M299.2 654.4 L337.6 663.2" fill="none" stroke="#1c1c1c" stroke-width="1.2"/>
<path d="M299.2 656.3 L336.8 665.9 L341.6 664.8" fill="none" stroke="#1c1c1c" stroke-width="1.2"/>
<path d="M303.2 607.2 C302.7 608.3 300.7 610.9 300 613.6 C299.3 616.3 299.3 621.6 299.2 623.2" fill="none" stroke="#1c1c1c" stroke-width="1.2"/>
<ellipse cx="359.5" cy="680.8" rx="2.2" ry="17.3" fill="#1c1c1c" stroke="#1c1c1c" stroke-width="1" transform="rotate(3 359.5 680.8)"/>
<ellipse cx="281.6" cy="591.7" rx="3.5" ry="1.9" fill="none" stroke="#1c1c1c" stroke-width="1.1" transform="rotate(-8 281.6 591.7)"/>
<ellipse cx="287.2" cy="571.2" rx="0.8" ry="0.8" fill="#222" stroke="#222" stroke-width="1.5"/>
<ellipse cx="295.2" cy="590.9" rx="0.8" ry="0.8" fill="#222" stroke="#222" stroke-width="1.5"/>
<ellipse cx="340" cy="566.9" rx="0.8" ry="0.8" fill="#222" stroke="#222" stroke-width="1.5"/>
<ellipse cx="356" cy="542.9" rx="0.8" ry="0.8" fill="#222" stroke="#222" stroke-width="1.5"/>
<path d="M297.5 696.2 C301.7 696.5 317.7 696.9 322.5 697.5 C327.3 698.1 325.2 698.9 326.2 700 C327.3 701.1 324 703.3 328.8 704.4 C333.5 705.4 349.8 707 355 706.2 C360.2 705.5 358.8 703.5 360 700 C361.2 696.5 362 691.7 362.5 685 C363 678.3 363 664.2 363.1 660" fill="none" stroke="#1c1c1c" stroke-width="1.3"/>
<path d="M297.5 660 L296.2 737.5 L290 740" fill="none" stroke="#1c1c1c" stroke-width="1.3"/>
<path d="M353.8 660 L354.4 703.8" fill="none" stroke="#1c1c1c" stroke-width="1.2"/>
<path d="M298.8 698.1 L321.9 699.4 L325 701.9 L327.5 706 L354.4 707.8" fill="none" stroke="#1c1c1c" stroke-width="1.2"/>
<ellipse cx="359.4" cy="681.2" rx="2.5" ry="16" fill="#1c1c1c" stroke="#1c1c1c" stroke-width="1" transform="rotate(3 359.4 681.2)"/>
<ellipse cx="346.9" cy="678.8" rx="2.2" ry="2.2" fill="none" stroke="#1c1c1c" stroke-width="1.3"/>
<ellipse cx="346.9" cy="678.8" rx="1" ry="1" fill="none" stroke="#1c1c1c" stroke-width="0.9"/>
<ellipse cx="346.2" cy="688.8" rx="2.2" ry="2.2" fill="none" stroke="#1c1c1c" stroke-width="1.3"/>
<ellipse cx="346.2" cy="688.8" rx="1" ry="1" fill="none" stroke="#1c1c1c" stroke-width="0.9"/>
<ellipse cx="336.2" cy="697.5" rx="2.2" ry="2.2" fill="none" stroke="#1c1c1c" stroke-width="1.3"/>
<ellipse cx="336.2" cy="697.5" rx="1" ry="1" fill="none" stroke="#1c1c1c" stroke-width="0.9"/>
<ellipse cx="346.9" cy="697.5" rx="2.2" ry="2.2" fill="none" stroke="#1c1c1c" stroke-width="1.3"/>
<ellipse cx="346.9" cy="697.5" rx="1" ry="1" fill="none" stroke="#1c1c1c" stroke-width="0.9"/>
<path d="M350 676.2 L351.9 677.5" fill="none" stroke="#1c1c1c" stroke-width="2"/>
<path d="M350 681.9 L351.9 683.1" fill="none" stroke="#1c1c1c" stroke-width="2"/>
<path d="M350 695.6 L351.9 696.9" fill="none" stroke="#1c1c1c" stroke-width="2"/>
<path d="M340 693.8 L341.2 691.9" fill="none" stroke="#1c1c1c" stroke-width="2"/>
<ellipse cx="332.5" cy="715" rx="2.6" ry="2.6" fill="none" stroke="#1c1c1c" stroke-width="2.0"/>
<ellipse cx="332.5" cy="715" rx="0.8" ry="0.8" fill="none" stroke="#1c1c1c" stroke-width="1.0"/>
<ellipse cx="331.9" cy="725" rx="2.6" ry="2.6" fill="none" stroke="#1c1c1c" stroke-width="2.0"/>
<ellipse cx="331.9" cy="725" rx="0.8" ry="0.8" fill="none" stroke="#1c1c1c" stroke-width="1.0"/>
<ellipse cx="331.9" cy="735" rx="2.6" ry="2.6" fill="none" stroke="#1c1c1c" stroke-width="2.0"/>
<ellipse cx="331.9" cy="735" rx="0.8" ry="0.8" fill="none" stroke="#1c1c1c" stroke-width="1.0"/>
<ellipse cx="321.2" cy="734.4" rx="2.6" ry="2.6" fill="none" stroke="#1c1c1c" stroke-width="2.0"/>
<ellipse cx="321.2" cy="734.4" rx="0.8" ry="0.8" fill="none" stroke="#1c1c1c" stroke-width="1.0"/>
<path d="M338.1 702.5 L327.5 727.5 L302.5 785" fill="none" stroke="#1c1c1c" stroke-width="1" stroke-dasharray="3 2"/>
<path d="M342.5 706.2 L331.2 732.5 L308.8 785" fill="none" stroke="#1c1c1c" stroke-width="1" stroke-dasharray="3 2"/>
<path d="M346.2 707.5 L336.2 730" fill="none" stroke="#1c1c1c" stroke-width="1" stroke-dasharray="3 2"/>
<path d="M335 718.8 L326.2 740 L315 767.5 L308.8 785" fill="none" stroke="#1c1c1c" stroke-width="1" stroke-dasharray="3 2"/>
<path d="M303.8 763.8 C304.2 762.5 304.8 761.5 306.2 758.8 C307.7 756 310.8 749.8 312.5 747.5 C314.2 745.2 314.6 745.2 316.2 745 C317.9 744.8 321 745.4 322.5 746.2 C324 747.1 324.5 746.5 325 750 C325.5 753.5 325.8 764.1 325.6 767.5 C325.4 770.9 327 770.4 323.8 770.6 C320.5 770.8 309.6 769.5 306.2 768.8 C302.9 768 304.2 767.1 303.8 766.2 C303.3 765.4 303.3 765 303.8 763.8 Z" fill="none" stroke="#1c1c1c" stroke-width="1.4"/>
<ellipse cx="319.4" cy="748.1" rx="2.4" ry="2.4" fill="none" stroke="#1c1c1c" stroke-width="1.5"/>
<ellipse cx="318.1" cy="757.5" rx="2.4" ry="2.4" fill="none" stroke="#1c1c1c" stroke-width="1.5"/>
<ellipse cx="310" cy="766.2" rx="2.4" ry="2.4" fill="none" stroke="#1c1c1c" stroke-width="1.5"/>
<ellipse cx="318.8" cy="766.2" rx="2.4" ry="2.4" fill="none" stroke="#1c1c1c" stroke-width="1.5"/>
<path d="M306.9 750 L310.6 745 L312.5 746.2 L308.8 751.9 Z" fill="none" stroke="#1c1c1c" stroke-width="1.3"/>
<path d="M303.8 760 L295 760 L290 772.5" fill="none" stroke="#1c1c1c" stroke-width="1" stroke-dasharray="3 2"/>
<path d="M325.6 740 L328.8 743.8" fill="none" stroke="#1c1c1c" stroke-width="2.5"/>
<path d="M288.8 774.4 L290.6 772.8" fill="none" stroke="#1c1c1c" stroke-width="3"/>
<path d="M300 785 L288.8 785.6 L279.4 811.2" fill="none" stroke="#1c1c1c" stroke-width="1" stroke-dasharray="3 2"/>
<path d="M307.5 771.2 L300 793.8" fill="none" stroke="#1c1c1c" stroke-width="1" stroke-dasharray="3 2"/>
<path d="M312.5 771.2 L305 798.8" fill="none" stroke="#1c1c1c" stroke-width="1" stroke-dasharray="3 2"/>
<path d="M317.5 771.2 L305 805" fill="none" stroke="#1c1c1c" stroke-width="1" stroke-dasharray="3 2"/>
<path d="M292.1 791.2 L296.9 795 L300 797.5" fill="none" stroke="#1c1c1c" stroke-width="3.2"/>
<path d="M300 797.5 L301.2 793.1" fill="none" stroke="#1c1c1c" stroke-width="2.8"/>
<path d="M292.1 801.2 L296.9 805 L300 807.5" fill="none" stroke="#1c1c1c" stroke-width="3.2"/>
<path d="M300 807.5 L301.2 803.1" fill="none" stroke="#1c1c1c" stroke-width="2.8"/>
<path d="M292.1 810.6 L296.9 814.4 L300 816.9" fill="none" stroke="#1c1c1c" stroke-width="3.2"/>
<path d="M300 816.9 L301.2 812.5" fill="none" stroke="#1c1c1c" stroke-width="2.8"/>
<path d="M269.4 811.9 L273.8 813.8 L277.5 815" fill="none" stroke="#1c1c1c" stroke-width="3.2"/>
<path d="M277.5 815 L279 811.5" fill="none" stroke="#1c1c1c" stroke-width="2.8"/>
<path d="M137.5 205.5 L137.5 208.5 L140 211.2 L151 213 L162 211.2 L164.8 208.5 L164.8 205.5 Z" fill="#1c1c1c" stroke="#1c1c1c" stroke-width="1"/>
<ellipse cx="151.1" cy="205.5" rx="13.7" ry="6.2" fill="#1c1c1c" stroke="#1c1c1c" stroke-width="1.2"/>
<path d="M144 203.8 L156 207.2" fill="none" stroke="#fff" stroke-width="2.2"/>
<path d="M153 201.8 L159.5 203.5" fill="none" stroke="#fff" stroke-width="1.5"/>
<path d="M140 207.8 L146 209.8" fill="none" stroke="#fff" stroke-width="1.2"/>
<path d="M141.8 211.5 L141.8 217.5 L147 219.5 L155 219.5 L160 217.5 L160 211.5 Z" fill="#fff" stroke="#1c1c1c" stroke-width="1"/>
<path d="M141.8 211.5 L141.8 217.5" fill="none" stroke="#1c1c1c" stroke-width="1.2"/>
<path d="M160 211.5 L160 217.5" fill="none" stroke="#1c1c1c" stroke-width="1.2"/>
<path d="M141.8 214.5 C142.7 214.9 144.8 216.4 147 216.8 C149.2 217.2 152.8 217.2 155 216.8 C157.2 216.4 159.2 214.9 160 214.5" fill="none" stroke="#1c1c1c" stroke-width="2.2"/>
<path d="M141.8 217.5 C142.7 217.9 144.8 219.3 147 219.7 C149.2 220.1 152.8 220.1 155 219.7 C157.2 219.3 159.2 217.9 160 217.5" fill="none" stroke="#1c1c1c" stroke-width="2.2"/>
<path d="M141.8 216 C142.7 216.4 144.8 217.8 147 218.2 C149.2 218.6 152.8 218.6 155 218.2 C157.2 217.8 159.2 216.4 160 216" fill="none" stroke="#1c1c1c" stroke-width="1.2"/>
<path d="M151.2 220 L151.2 252" fill="none" stroke="#1c1c1c" stroke-width="1.2" stroke-dasharray="3.5 2.5"/>
<ellipse cx="151.3" cy="237.5" rx="10.5" ry="4.6" fill="none" stroke="#333" stroke-width="1.6"/>
<ellipse cx="151.3" cy="237.5" rx="8.4" ry="3.2" fill="none" stroke="#333" stroke-width="1.2"/>
<ellipse cx="152" cy="289.2" rx="14.6" ry="6.8" fill="none" stroke="#1c1c1c" stroke-width="1.2"/>
<path d="M137.4 286.5 L137.4 289.5" fill="none" stroke="#1c1c1c" stroke-width="1.2"/>
<path d="M166.6 286.5 L166.6 289.5" fill="none" stroke="#1c1c1c" stroke-width="1.2"/>
<ellipse cx="152" cy="286.5" rx="13" ry="5" fill="#fff" stroke="#1c1c1c" stroke-width="2.0"/>
<ellipse cx="152" cy="286.2" rx="11.2" ry="4" fill="none" stroke="#1c1c1c" stroke-width="1.0"/>
<path d="M143.5 253.5 L143.5 287.5 L148 289 L156 289 L160.2 287.5 L160.2 253.5 Z" fill="#141414" stroke="#1c1c1c" stroke-width="1"/>
<ellipse cx="151.8" cy="253.5" rx="8.6" ry="2.4" fill="#141414" stroke="#141414" stroke-width="2.2"/>
<path d="M144.5 253.2 C145.1 253.4 146.1 254.4 148 254.6 C149.9 254.8 154.1 254.8 156 254.6 C157.9 254.4 158.7 253.4 159.2 253.2" fill="none" stroke="#ddd" stroke-width="1.1"/>
<path d="M130 288 C130.7 288.1 133 288.6 134 288.5 C135 288.4 135.6 287.9 136.2 287.5 C136.8 287.1 137.5 286.2 137.8 286" fill="none" stroke="#1c1c1c" stroke-width="1.3"/>
<path d="M227.5 198.8 L224 199 L168 205.8" fill="none" stroke="#1c1c1c" stroke-width="1.1"/>
<path d="M168 205.8 L174.2 203.3 L174.7 206.7 Z" fill="#1c1c1c" stroke="none"/>
<path d="M225.5 223.2 L217.5 223.8 L163.8 236.2" fill="none" stroke="#1c1c1c" stroke-width="1.1"/>
<path d="M163.8 236.2 L169.7 233.1 L170.5 236.4 Z" fill="#1c1c1c" stroke="none"/>
<path d="M225.5 247 L218.8 247 L160 271.2" fill="none" stroke="#1c1c1c" stroke-width="1.1"/>
<path d="M160 271.2 L165.4 267.2 L166.7 270.3 Z" fill="#1c1c1c" stroke="none"/>
<path d="M225.5 271.2 L217.5 271.2 L160 328.8" fill="none" stroke="#1c1c1c" stroke-width="1.1"/>
<path d="M160 328.8 L163.4 323 L165.8 325.4 Z" fill="#1c1c1c" stroke="none"/>
<path d="M370.5 198.8 L363.8 198.8 L313.8 233.8 L312 243" fill="none" stroke="#1c1c1c" stroke-width="1.1"/>
<path d="M312 243 L311.5 236.3 L314.9 236.9 Z" fill="#1c1c1c" stroke="none"/>
<path d="M370.5 223.2 L363.8 223.2 L328.8 245" fill="none" stroke="#1c1c1c" stroke-width="1.1"/>
<path d="M328.8 245 L333.4 240.1 L335.2 243 Z" fill="#1c1c1c" stroke="none"/>
<path d="M370.5 271.2 L362.5 271.2 L315.5 265" fill="none" stroke="#1c1c1c" stroke-width="1.1"/>
<path d="M315.5 265 L322.2 264.2 L321.7 267.5 Z" fill="#1c1c1c" stroke="none"/>
<path d="M370.5 295.5 L363.8 295.5 L326.2 321.2" fill="none" stroke="#1c1c1c" stroke-width="1.1"/>
<path d="M326.2 321.2 L330.6 316.2 L332.6 319 Z" fill="#1c1c1c" stroke="none"/>
<path d="M393.8 440 L390 440 L355 452.5" fill="none" stroke="#1c1c1c" stroke-width="1.1"/>
<path d="M355 452.5 L360.5 448.7 L361.7 451.9 Z" fill="#1c1c1c" stroke="none"/>
<path d="M392 463.8 L386.2 463.8 L358.8 482.5" fill="none" stroke="#1c1c1c" stroke-width="1.1"/>
<path d="M358.8 482.5 L363.2 477.4 L365.1 480.2 Z" fill="#1c1c1c" stroke="none"/>
<path d="M442.5 463.8 L435 463.8 L388.8 487.5" fill="none" stroke="#1c1c1c" stroke-width="1.1"/>
<path d="M388.8 487.5 L393.8 483 L395.3 486 Z" fill="#1c1c1c" stroke="none"/>
<path d="M442.5 487.5 L435 487.5 L360 528.8" fill="none" stroke="#1c1c1c" stroke-width="1.1"/>
<path d="M360 528.8 L364.9 524.1 L366.5 527.1 Z" fill="#1c1c1c" stroke="none"/>
<path d="M452.5 632.5 L445 632.5 L423.8 675" fill="none" stroke="#1c1c1c" stroke-width="1.1"/>
<path d="M423.8 675 L425.1 668.4 L428.2 669.9 Z" fill="#1c1c1c" stroke="none"/>
<path d="M488.2 632.5 L482.5 632.5 L480.8 681" fill="none" stroke="#1c1c1c" stroke-width="1.1"/>
<path d="M480.8 681 L479.3 674.4 L482.7 674.6 Z" fill="#1c1c1c" stroke="none"/>
<path d="M524.5 632.5 L518.8 632.5 L510 677.5" fill="none" stroke="#1c1c1c" stroke-width="1.1"/>
<path d="M510 677.5 L509.6 670.8 L512.9 671.4 Z" fill="#1c1c1c" stroke="none"/>
<path d="M560 632.5 L553.8 632.5 L532.5 675" fill="none" stroke="#1c1c1c" stroke-width="1.1"/>
<path d="M532.5 675 L533.9 668.4 L536.9 669.9 Z" fill="#1c1c1c" stroke="none"/>
<path d="M596.2 632.5 L590 632.5 L571.2 680" fill="none" stroke="#1c1c1c" stroke-width="1.1"/>
<path d="M571.2 680 L572.1 673.3 L575.2 674.6 Z" fill="#1c1c1c" stroke="none"/>
<path d="M632 632.5 L626.2 632.5 L606.2 687.5" fill="none" stroke="#1c1c1c" stroke-width="1.1"/>
<path d="M606.2 687.5 L606.9 680.8 L610.1 682 Z" fill="#1c1c1c" stroke="none"/>
<path d="M395 740.5 L385 740 L350 718.5 L338.5 715.5" fill="none" stroke="#1c1c1c" stroke-width="1.1"/>
<path d="M338.5 715.5 L345.2 715.5 L344.4 718.8 Z" fill="#1c1c1c" stroke="none"/>
<path d="M385 740 L348 727 L337.5 724.5" fill="none" stroke="#1c1c1c" stroke-width="1.1"/>
<path d="M337.5 724.5 L344.2 724.4 L343.4 727.7 Z" fill="#1c1c1c" stroke="none"/>
<path d="M385 740 L350 741.2 L337.5 737" fill="none" stroke="#1c1c1c" stroke-width="1.1"/>
<path d="M337.5 737 L344.2 737.5 L343.1 740.7 Z" fill="#1c1c1c" stroke="none"/>
<path d="M395 765 L385 765 L333.8 750 L328.8 743.8 L325 738" fill="none" stroke="#1c1c1c" stroke-width="1.1"/>
<path d="M325 738 L330 742.5 L327.1 744.4 Z" fill="#1c1c1c" stroke="none"/>
<path d="M395 789.5 L385 789.5 L326.2 760" fill="none" stroke="#1c1c1c" stroke-width="1.1"/>
<path d="M326.2 760 L332.8 761.4 L331.3 764.4 Z" fill="#1c1c1c" stroke="none"/>
<path d="M395 813 L385 813 L322.5 796.2 L304 795.5" fill="none" stroke="#1c1c1c" stroke-width="1.1"/>
<path d="M304 795.5 L310.6 794.1 L310.4 797.5 Z" fill="#1c1c1c" stroke="none"/>
<path d="M385 813 L304 807" fill="none" stroke="#1c1c1c" stroke-width="1.1"/>
<path d="M304 807 L310.6 805.8 L310.4 809.2 Z" fill="#1c1c1c" stroke="none"/>
<path d="M385 813 L321 819.4 L304 815" fill="none" stroke="#1c1c1c" stroke-width="1.1"/>
<path d="M304 815 L310.7 815 L309.9 818.3 Z" fill="#1c1c1c" stroke="none"/>
<path d="M233.8 789.5 L241.2 789.5 L287.5 775" fill="none" stroke="#1c1c1c" stroke-width="1.1"/>
<path d="M287.5 775 L281.8 778.6 L280.8 775.3 Z" fill="#1c1c1c" stroke="none"/>
<path d="M233.8 813 L241.2 813 L258.8 821.8 L267.5 815" fill="none" stroke="#1c1c1c" stroke-width="1.1"/>
<path d="M267.5 815 L263.4 820.3 L261.3 817.6 Z" fill="#1c1c1c" stroke="none"/>
<path d="M542.5 201.8 L572.5 258.8" fill="none" stroke="#1c1c1c" stroke-width="1.1"/>
<path d="M572.5 258.8 L568 253.8 L571 252.2 Z" fill="#1c1c1c" stroke="none"/>
<path d="M583.8 224.2 L587 252.5" fill="none" stroke="#1c1c1c" stroke-width="1.1"/>
<path d="M587 252.5 L584.6 246.2 L587.9 245.8 Z" fill="#1c1c1c" stroke="none"/>
<path d="M747.5 199.2 L793.8 300" fill="none" stroke="#1c1c1c" stroke-width="1.1"/>
<path d="M793.8 300 L789.5 294.8 L792.6 293.4 Z" fill="#1c1c1c" stroke="none"/>
<path d="M796.2 228.8 L817 268.5" fill="none" stroke="#1c1c1c" stroke-width="1.1"/>
<path d="M817 268.5 L812.5 263.5 L815.5 262 Z" fill="#1c1c1c" stroke="none"/>
<path d="M818.8 198.8 L836.2 263.8" fill="none" stroke="#1c1c1c" stroke-width="1.1"/>
<path d="M836.2 263.8 L832.9 257.9 L836.2 257 Z" fill="#1c1c1c" stroke="none"/>
<path d="M485 379.5 L495 379.5 L538 402" fill="none" stroke="#1c1c1c" stroke-width="1.1"/>
<path d="M538 402 L531.5 400.5 L533 397.5 Z" fill="#1c1c1c" stroke="none"/>
<path d="M870.6 319.8 L878.8 319.8 L913 341.2" fill="none" stroke="#1c1c1c" stroke-width="1.1"/>
<path d="M913 341.2 L906.6 339.2 L908.4 336.4 Z" fill="#1c1c1c" stroke="none"/>
<path d="M870.6 343.8 L878.8 343.8 L910 361.2" fill="none" stroke="#1c1c1c" stroke-width="1.1"/>
<path d="M910 361.2 L903.5 359.6 L905.2 356.6 Z" fill="#1c1c1c" stroke="none"/>
<path d="M870.6 368 L878.8 368 L912.5 392" fill="none" stroke="#1c1c1c" stroke-width="1.1"/>
<path d="M912.5 392 L906.2 389.6 L908.2 386.8 Z" fill="#1c1c1c" stroke="none"/>
<path d="M917.8 343.1 L919.8 344" fill="none" stroke="#1c1c1c" stroke-width="3"/>
<path d="M918.8 343.8 L918.8 346.9" fill="none" stroke="#1c1c1c" stroke-width="1.6"/>
<path d="M918.8 347.5 L918.8 360" fill="none" stroke="#1c1c1c" stroke-width="1.1" stroke-dasharray="3.5 2.5"/>
<path d="M905.6 366.9 L922.5 358.8 L931.2 360.6 L930.6 363.8 L913.8 371.2 L906.2 369.4 Z" fill="#fff" stroke="#1c1c1c" stroke-width="1.6"/>
<path d="M906.2 369.4 L913.8 368.1 L930.6 361" fill="none" stroke="#1c1c1c" stroke-width="1.0"/>
<path d="M905.6 366.9 L913.8 368.5" fill="none" stroke="#1c1c1c" stroke-width="1.0"/>
<path d="M913.1 365 L916.9 363.8" fill="none" stroke="#1c1c1c" stroke-width="2.2"/>
<path d="M920 362.2 L923.8 361" fill="none" stroke="#1c1c1c" stroke-width="2.2"/>
<path d="M914.6 371.9 L914.6 415" fill="none" stroke="#1c1c1c" stroke-width="1.1" stroke-dasharray="3.5 2.5"/>
<path d="M922.8 371.9 L923.1 415" fill="none" stroke="#1c1c1c" stroke-width="1.1" stroke-dasharray="3.5 2.5"/>
<path d="M307.5 247.8 L315.5 247.8 L315.5 251.8 L308.5 252.2 L307.5 247.8" fill="none" stroke="#1c1c1c" stroke-width="2.4"/>
<path d="M318 249.5 L323 250.2" fill="none" stroke="#1c1c1c" stroke-width="1.2" stroke-dasharray="3 2"/>
<path d="M323 250 L326.5 250.8" fill="none" stroke="#1c1c1c" stroke-width="3"/>
<path d="M312.5 262.5 L313 266" fill="none" stroke="#1c1c1c" stroke-width="3"/>
<path d="M289 246.5 L307 248.5" fill="none" stroke="#1c1c1c" stroke-width="1.1" stroke-dasharray="3.5 2.5"/>
<path d="M289 246.5 L303 325" fill="none" stroke="#1c1c1c" stroke-width="1.1" stroke-dasharray="3.5 2.5"/>
<path d="M311.5 254 L314.5 278" fill="none" stroke="#1c1c1c" stroke-width="1.1" stroke-dasharray="3.5 2.5"/>
<path d="M313.3 279.3 L343 434.4" fill="none" stroke="#1c1c1c" stroke-width="1.0"/>
<path d="M315.7 278.8 L345.4 434" fill="none" stroke="#1c1c1c" stroke-width="1.0"/>
<path d="M314.5 279 L344.2 434.2" fill="none" stroke="#333" stroke-width="1.2" stroke-dasharray="4 2.5"/>
<path d="M313.3 279.3 L315.7 278.8" fill="none" stroke="#1c1c1c" stroke-width="1"/>
<path d="M303 323.5 L313 380" fill="none" stroke="#1c1c1c" stroke-width="1.1" stroke-dasharray="3.5 2.5"/>
<path d="M370 681.9 L380 682.8" fill="none" stroke="#1c1c1c" stroke-width="1.1" stroke-dasharray="3.5 2.5"/>
<path d="M380 676.9 L432.5 681.9 L432.5 693.1 L380 688.1 Z" fill="#fff" stroke="#1c1c1c" stroke-width="1.6"/>
<path d="M380 680.6 L432.5 685.6" fill="none" stroke="#1c1c1c" stroke-width="1.0"/>
<path d="M380 684.4 L432.5 689.4" fill="none" stroke="#1c1c1c" stroke-width="1.0"/>
<path d="M381.9 678.5 L432.5 683.5" fill="none" stroke="#333" stroke-width="1.6"/>
<path d="M381.9 686.5 L432.5 691.5" fill="none" stroke="#333" stroke-width="1.6"/>
<path d="M383.8 677.5 L383.8 688.8" fill="none" stroke="#1c1c1c" stroke-width="1.5"/>
<path d="M391.5 678.2 L391.5 689.5" fill="none" stroke="#1c1c1c" stroke-width="1.5"/>
<path d="M399.2 679 L399.2 690.2" fill="none" stroke="#1c1c1c" stroke-width="1.5"/>
<path d="M407 679.8 L407 691" fill="none" stroke="#1c1c1c" stroke-width="1.5"/>
<path d="M414.8 680.5 L414.8 691.8" fill="none" stroke="#1c1c1c" stroke-width="1.5"/>
<path d="M422.5 681.2 L422.5 692.5" fill="none" stroke="#1c1c1c" stroke-width="1.5"/>
<path d="M430.2 682 L430.2 693.2" fill="none" stroke="#1c1c1c" stroke-width="1.5"/>
<path d="M432.5 681.2 L438.1 681.9 L438.1 693.1 L432.5 693.1 Z" fill="#fff" stroke="#1c1c1c" stroke-width="1.3"/>
<path d="M435.2 681.5 L435.2 693.1" fill="none" stroke="#1c1c1c" stroke-width="1"/>
<ellipse cx="440" cy="687.5" rx="1.5" ry="9" fill="#fff" stroke="#1c1c1c" stroke-width="1.6" transform="rotate(3 440 687.5)"/>
<ellipse cx="443.1" cy="687.8" rx="1.5" ry="7.8" fill="#fff" stroke="#1c1c1c" stroke-width="1.6" transform="rotate(3 443.1 687.8)"/>
<path d="M444.6 683.1 L455 684 L456.2 688.1 L455 692.2 L444.6 691.9 Z" fill="#fff" stroke="#1c1c1c" stroke-width="1.3"/>
<path d="M450 683.5 L450 692.1" fill="none" stroke="#1c1c1c" stroke-width="1"/>
<path d="M452.5 683.8 L452.5 692.2" fill="none" stroke="#1c1c1c" stroke-width="1"/>
<path d="M456.2 688.1 L471.2 689.8" fill="none" stroke="#1c1c1c" stroke-width="1.1" stroke-dasharray="3.5 2.5"/>
<path d="M472.9 683.8 L471.9 695.6" fill="none" stroke="#1c1c1c" stroke-width="2.6"/>
<path d="M475.8 684 L474.8 695.9" fill="none" stroke="#1c1c1c" stroke-width="2.6"/>
<path d="M478.6 684.2 L477.6 696.1" fill="none" stroke="#1c1c1c" stroke-width="2.6"/>
<path d="M481.5 684.5 L480.5 696.4" fill="none" stroke="#1c1c1c" stroke-width="2.6"/>
<path d="M484.4 684.8 L483.4 696.6" fill="none" stroke="#1c1c1c" stroke-width="2.6"/>
<path d="M487.2 685 L486.2 696.9" fill="none" stroke="#1c1c1c" stroke-width="2.6"/>
<path d="M471.9 695.6 L487.5 697.2" fill="none" stroke="#1c1c1c" stroke-width="2.2"/>
<path d="M488.1 690.6 L495 691.2" fill="none" stroke="#1c1c1c" stroke-width="1.1" stroke-dasharray="3.5 2.5"/>
<path d="M490 690.6 L546.9 695" fill="none" stroke="#1c1c1c" stroke-width="1.1" stroke-dasharray="3.5 2.5"/>
<path d="M577.5 696.9 L615 700" fill="none" stroke="#1c1c1c" stroke-width="1.1" stroke-dasharray="3.5 2.5"/>
<ellipse cx="507.5" cy="691.9" rx="3" ry="12.5" fill="none" stroke="#444" stroke-width="2.2" transform="rotate(5 507.5 691.9)"/>
<ellipse cx="507.5" cy="691.9" rx="1.9" ry="11" fill="none" stroke="#444" stroke-width="1.0" transform="rotate(5 507.5 691.9)"/>
<ellipse cx="530" cy="693.8" rx="4" ry="16.2" fill="none" stroke="#444" stroke-width="2.4" transform="rotate(5 530 693.8)"/>
<ellipse cx="530" cy="693.8" rx="2.6" ry="14.5" fill="none" stroke="#444" stroke-width="1.0" transform="rotate(5 530 693.8)"/>
<ellipse cx="550" cy="695" rx="3.2" ry="12.5" fill="#fff" stroke="#1c1c1c" stroke-width="1.6" transform="rotate(4 550 695)"/>
<path d="M550.6 682.5 L560 681.2 L560 710.6 L551.2 707.5 Z" fill="#fff" stroke="#1c1c1c" stroke-width="1"/>
<ellipse cx="552.5" cy="695.2" rx="3" ry="12.5" fill="none" stroke="#1c1c1c" stroke-width="1.3" transform="rotate(4 552.5 695.2)"/>
<path d="M554.4 681.9 L560.6 681.2 L561.2 710.6 L555 708.8 Z" fill="#1c1c1c" stroke="#1c1c1c" stroke-width="1"/>
<ellipse cx="563.8" cy="696.5" rx="3.2" ry="17.2" fill="#fff" stroke="#1c1c1c" stroke-width="1.6" transform="rotate(4 563.8 696.5)"/>
<path d="M565 683.1 C566.2 683.2 570.6 682.6 572.5 683.8 C574.4 684.9 575.4 687.9 576.2 690 C577.1 692.1 577.5 694.2 577.5 696.2 C577.5 698.3 577.1 700.8 576.2 702.5 C575.4 704.2 574.4 705 572.5 706.2 C570.6 707.5 566.2 709.4 565 710" fill="#fff" stroke="#1c1c1c" stroke-width="1.5"/>
<path d="M566.2 690 L575.6 691.2" fill="none" stroke="#1c1c1c" stroke-width="1"/>
<path d="M566.2 702.5 L575.6 701.2" fill="none" stroke="#1c1c1c" stroke-width="1"/>
<path d="M570 683.8 L570 708.8" fill="none" stroke="#1c1c1c" stroke-width="1"/>
<path d="M576.2 695 L579 696.5 L576.2 698.1" fill="none" stroke="#1c1c1c" stroke-width="2"/>
<path d="M604.4 683.8 C604.4 684.8 605 687.5 604.8 690 C604.5 692.5 603.3 695.4 603.1 698.8 C603 702.1 603.4 707.1 603.8 710 C604.1 712.9 604.5 715.8 605 716.2 C605.5 716.7 606.4 714.4 606.9 712.5 C607.3 710.6 607.6 707.5 607.8 705 C607.9 702.5 607.5 698.8 607.5 697.5" fill="none" stroke="#1c1c1c" stroke-width="2.4"/>
<path d="M550 277 C550.2 276.2 550 273.9 551 272.4 C552 270.9 554.2 269 556 268 C557.8 267 557.9 266.1 561.6 266.4 C565.3 266.7 568.1 266.8 578 269.6 C587.9 272.4 612.9 280 621 283 C629.1 286 625.6 286.2 626.4 287.6 C627.2 289 626.1 290.9 626 291.6" fill="none" stroke="#1c1c1c" stroke-width="1.5"/>
<path d="M551 277 L593 305 L598 304 L626 291" fill="none" stroke="#1c1c1c" stroke-width="1.4"/>
<path d="M553.6 273.2 L595 301 L625 288" fill="none" stroke="#1c1c1c" stroke-width="1.2"/>
<path d="M556 268 L553.6 273.2 L551 277" fill="none" stroke="#1c1c1c" stroke-width="1.2"/>
<path d="M595 301 L593 305" fill="none" stroke="#1c1c1c" stroke-width="1.2"/>
<path d="M595 301 L598 304" fill="none" stroke="#1c1c1c" stroke-width="1.2"/>
<path d="M550 277 C549.9 282.5 549.9 303.2 549.4 310 C548.9 316.8 548.6 314.3 547 318 C545.4 321.7 541.3 328.7 540 332 C538.7 335.3 539.1 328.7 539 338 C538.9 347.3 540.3 377.7 539.6 388 C538.9 398.3 536.4 396.3 535 400 C533.6 403.7 531.8 405 531 410 C530.2 415 530.2 426.7 530 430" fill="none" stroke="#1c1c1c" stroke-width="1.5"/>
<path d="M598 304 C598 310 598.7 332.7 598 340 C597.3 347.3 596.3 345.7 594 348 C591.7 350.3 586.3 352.3 584 354 C581.7 355.7 580.7 355.7 580 358 C579.3 360.3 578.3 359.7 580 368 C581.7 376.3 587.7 397.7 590 408 C592.3 418.3 593.3 426.3 594 430" fill="none" stroke="#1c1c1c" stroke-width="1.2"/>
<path d="M593 305 C593 310.7 593.5 332.3 593 339 C592.5 345.7 592 343.2 590 345 C588 346.8 583.3 349.2 581 350 C578.7 350.8 579.3 352.3 576 350 C572.7 347.7 567 338.7 561 336 C555 333.3 543.5 334.3 540 334" fill="none" stroke="#1c1c1c" stroke-width="1.2"/>
<path d="M549.4 310 L593 339" fill="none" stroke="#1c1c1c" stroke-width="1.2"/>
<path d="M548 316 L591 344" fill="none" stroke="#1c1c1c" stroke-width="1.2"/>
<path d="M539 338 C542.5 338.3 553.8 337.3 560 340 C566.2 342.7 572.7 351 576 354 C579.3 357 579.3 357.3 580 358" fill="none" stroke="#1c1c1c" stroke-width="1.2"/>
<path d="M555 335 L555 389" fill="none" stroke="#1c1c1c" stroke-width="1.2"/>
<path d="M560 340 L560 390" fill="none" stroke="#1c1c1c" stroke-width="1.2"/>
<path d="M542 338 L542 388" fill="none" stroke="#1c1c1c" stroke-width="1.2"/>
<path d="M539.6 388 C542.3 388.3 549.9 386.7 556 390 C562.1 393.3 570.3 405 576 408 C581.7 411 587.7 408 590 408" fill="none" stroke="#1c1c1c" stroke-width="1.2"/>
<path d="M626.4 287.6 C627 294.7 627.7 314.3 630 330 C632.3 345.7 636.7 367 640 382 C643.3 397 647.7 412 650 420 C652.3 428 653.3 428.3 654 430" fill="none" stroke="#1c1c1c" stroke-width="1.5"/>
<path d="M585 362 L630 340" fill="none" stroke="#1c1c1c" stroke-width="1.2"/>
<path d="M585 365 L630 343" fill="none" stroke="#1c1c1c" stroke-width="1.2"/>
<path d="M580 358 L585 362" fill="none" stroke="#1c1c1c" stroke-width="1.2"/>
<path d="M625 283 C626 282.7 629.7 282.2 631 281 C632.3 279.8 632.5 284.5 633 276 C633.5 267.5 633.8 237.7 634 230" fill="none" stroke="#1c1c1c" stroke-width="1.4"/>
<path d="M630 285 C636.7 288.3 662.7 302.2 670 305 C677.3 307.8 673.2 306.2 674 302 C674.8 297.8 674.7 287.7 675 280 C675.3 272.3 675.2 260.3 676 256 C676.8 251.7 678.2 254.2 680 254 C681.8 253.8 685.5 254.3 687 255 C688.5 255.7 688.8 249 689 258 C689.2 267 685.8 296.3 688 309 C690.2 321.7 698.3 325.8 702 334 C705.7 342.2 708.7 354 710 358" fill="none" stroke="#1c1c1c" stroke-width="1.3"/>
<path d="M628 288 L630 300 L664 307 L670 305" fill="none" stroke="#1c1c1c" stroke-width="1.2"/>
<path d="M664 307 L668 309 L669 378 L668 384" fill="none" stroke="#1c1c1c" stroke-width="1.2"/>
<path d="M654 308 L653 380" fill="none" stroke="#1c1c1c" stroke-width="1.2"/>
<path d="M630 300 L631 334" fill="none" stroke="#1c1c1c" stroke-width="1.2"/>
<path d="M638 370 C640 372.3 647.3 381.3 650 384 C652.7 386.7 646.7 386 654 386 C661.3 386 684.7 385.3 694 384 C703.3 382.7 707.3 379 710 378" fill="none" stroke="#1c1c1c" stroke-width="1.2"/>
<path d="M698 330 L699 388" fill="none" stroke="#1c1c1c" stroke-width="1.2"/>
<path d="M638 232 L650 236 L676 256" fill="none" stroke="#1c1c1c" stroke-width="1.3"/>
<path d="M650 240 L654 242 L676 254 L710 242" fill="none" stroke="#1c1c1c" stroke-width="1.2"/>
<path d="M687 255 L710 247" fill="none" stroke="#1c1c1c" stroke-width="1.2"/>
<path d="M598 260 L710 284" fill="none" stroke="#1c1c1c" stroke-width="1.1" stroke-dasharray="3.5 2.5"/>
<path d="M648 259 L702 272 L710 270" fill="none" stroke="#1c1c1c" stroke-width="1.1" stroke-dasharray="3.5 2.5"/>
<path d="M648 259 L666 256" fill="none" stroke="#1c1c1c" stroke-width="1.1" stroke-dasharray="3.5 2.5"/>
<path d="M642 390 L654 394 L650 398 L640 395 Z" fill="none" stroke="#1c1c1c" stroke-width="1.2"/>
<path d="M606 430 L686 390" fill="none" stroke="#1c1c1c" stroke-width="1.2"/>
<path d="M654 430 L710 402" fill="none" stroke="#1c1c1c" stroke-width="1.2"/>
<path d="M537 403 C537.3 401.3 536.8 397.8 542 398 C547.2 398.2 563 402.3 568 404 C573 405.7 572.3 406.7 572 408 C571.7 409.3 571.3 412 566 412 C560.7 412 544.8 409.5 540 408 C535.2 406.5 536.7 404.7 537 403 Z" fill="none" stroke="#1c1c1c" stroke-width="1.5"/>
<path d="M547 397 L547 404" fill="none" stroke="#1c1c1c" stroke-width="2.2"/>
<path d="M560 400 L560 407" fill="none" stroke="#1c1c1c" stroke-width="2.2"/>
<path d="M550 406 L558 407.6" fill="none" stroke="#1c1c1c" stroke-width="1.5" stroke-dasharray="4 3"/>
<path d="M530 410 L576 419 L586 410 L590 408" fill="none" stroke="#1c1c1c" stroke-width="1.3"/>
<path d="M576 419 L577 430" fill="none" stroke="#1c1c1c" stroke-width="1.2"/>
<ellipse cx="576" cy="264" rx="3.2" ry="2.8" fill="#1c1c1c" stroke="#1c1c1c" stroke-width="1"/>
<path d="M583 260 L589 257.6" fill="none" stroke="#1c1c1c" stroke-width="3.2"/>
<path d="M589 257.6 L587 255" fill="none" stroke="#1c1c1c" stroke-width="2.5"/>
<path d="M589 257.6 L596 259" fill="none" stroke="#1c1c1c" stroke-width="3"/>
<path d="M690 249 C696.2 246.3 720.2 235.8 727 233 C733.8 230.2 730 231.5 731 232 C732 232.5 732.4 231.3 733 236 C733.6 240.7 734 252 734.4 260 C734.8 268 735.8 279.3 735.6 284 C735.4 288.7 740.3 284 733 288 C725.7 292 698.8 304.7 692 308" fill="none" stroke="#1c1c1c" stroke-width="1.4"/>
<path d="M690 256 L732.4 238" fill="none" stroke="#1c1c1c" stroke-width="1.2"/>
<path d="M735.6 284 L692 305.6" fill="none" stroke="#1c1c1c" stroke-width="1.2"/>
<path d="M690 269.6 L701 272 L813 251 L860 263.6 L822 270" fill="none" stroke="#1c1c1c" stroke-width="1.1" stroke-dasharray="3.5 2.5"/>
<path d="M690 281 L733 291" fill="none" stroke="#1c1c1c" stroke-width="1.1" stroke-dasharray="3.5 2.5"/>
<path d="M733 291 L778 302" fill="none" stroke="#1c1c1c" stroke-width="1.1"/>
<path d="M732.4 294.4 L777.2 305.6" fill="none" stroke="#1c1c1c" stroke-width="1.1"/>
<path d="M732.8 292.8 L777.6 303.8" fill="none" stroke="#1c1c1c" stroke-width="1.1" stroke-dasharray="4 3"/>
<path d="M733 291 L732.4 294.4" fill="none" stroke="#1c1c1c" stroke-width="1.3"/>
<path d="M778 304 C781.7 304.4 793 306.7 800 306.4 C807 306.1 814.2 304.2 820 302 C825.8 299.8 831.4 295.7 835 293 C838.6 290.3 840.7 288.1 841.4 286 C842.1 283.9 840.5 281.8 839 280.4 C837.5 279 833.5 278.1 832.4 277.6" fill="none" stroke="#262626" stroke-width="6.6"/>
<path d="M778 304 C781.7 304.4 793 306.7 800 306.4 C807 306.1 814.2 304.2 820 302 C825.8 299.8 831.4 295.7 835 293 C838.6 290.3 840.7 288.1 841.4 286 C842.1 283.9 840.5 281.8 839 280.4 C837.5 279 833.5 278.1 832.4 277.6" fill="none" stroke="#555" stroke-width="2.2" stroke-dasharray="1.2 1.6"/>
<path d="M828 274.4 L832.4 277.6" fill="none" stroke="#fff" stroke-width="3.6"/>
<path d="M828 274.4 L832.4 277.6" fill="none" stroke="#1c1c1c" stroke-width="1.2"/>
<path d="M816 271 L824 272" fill="none" stroke="#1c1c1c" stroke-width="4.5"/>
<path d="M820 271.6 L819.6 275" fill="none" stroke="#1c1c1c" stroke-width="3"/>
<ellipse cx="838" cy="267.6" rx="3" ry="2.6" fill="#1c1c1c" stroke="#1c1c1c" stroke-width="1"/>
<path d="M690 310 C691 312.7 692.7 318.7 696 326 C699.3 333.3 706.8 347 710 354 C713.2 361 712 363 715 368 C718 373 725 380.8 728 384 C731 387.2 732.2 386.5 733 387" fill="none" stroke="#1c1c1c" stroke-width="1.5"/>
<path d="M751 309 C752.5 311.2 757.3 319.5 760 322 C762.7 324.5 765.5 324 767 324 C768.5 324 768.2 321 769 322 C769.8 323 771.2 327.2 772 330 C772.8 332.8 771 334.3 774 339 C777 343.7 783.3 350.5 790 358 C796.7 365.5 807.3 377.7 814 384 C820.7 390.3 826.7 393.2 830 396 C833.3 398.8 832.7 400 834 401 C835.3 402 837.3 401.8 838 402" fill="none" stroke="#1c1c1c" stroke-width="1.5"/>
<path d="M716 370 L774 339" fill="none" stroke="#1c1c1c" stroke-width="1.6"/>
<path d="M717 372.4 L775 341.2" fill="none" stroke="#1c1c1c" stroke-width="0.9"/>
<path d="M762 414 L814 385" fill="none" stroke="#1c1c1c" stroke-width="1.6"/>
<path d="M716 370 C718.3 372.3 726.3 381.5 730 384 C733.7 386.5 736 384 738 385 C740 386 738 385.2 742 390 C746 394.8 758 409.3 762 414 C766 418.7 765.3 417.3 766 418" fill="none" stroke="#1c1c1c" stroke-width="1.2"/>
<path d="M838 402 C840.7 403.3 850.3 406.7 854 410 C857.7 413.3 858.8 418.7 860 422 C861.2 425.3 860.8 428.7 861 430" fill="none" stroke="#1c1c1c" stroke-width="1.4"/>
<path d="M733 387 L735 430" fill="none" stroke="#1c1c1c" stroke-width="1.2"/>
<path d="M738 385 L739 430" fill="none" stroke="#1c1c1c" stroke-width="1.2"/>
<path d="M728 384 L730 430" fill="none" stroke="#1c1c1c" stroke-width="1.2"/>
<path d="M680 378.8 C683.1 378.9 693.6 378.6 698.8 379.4 C704 380.2 707.7 381.6 711.2 383.8 C714.7 386 717.3 389.3 720 392.4 C722.7 395.5 726.3 400.7 727.6 402.4" fill="none" stroke="#1c1c1c" stroke-width="1.2"/>
<path d="M680 391.2 C682.5 391.1 690.8 390.2 695 390.6 C699.2 391 701.5 391.2 705 393.8 C708.5 396.4 712.9 402.5 716.2 406.2 C719.5 409.9 723.5 414.5 725 416.2" fill="none" stroke="#1c1c1c" stroke-width="1.2"/>
<path d="M680 415 L708.8 399.4" fill="none" stroke="#1c1c1c" stroke-width="1.2"/>
<path d="M770 430 L856 409" fill="none" stroke="#1c1c1c" stroke-width="1.3"/>
<path d="M766 418 L774 428" fill="none" stroke="#1c1c1c" stroke-width="1.2"/>
<path d="M530 410 C529.8 413.8 530.7 425.8 529 433 C527.3 440.2 521.6 448.8 520 453 C518.4 457.2 518.9 456.3 519.6 458 C520.3 459.7 523.3 462.2 524 463" fill="none" stroke="#1c1c1c" stroke-width="1.5"/>
<path d="M524 463 L557 470 L563 474 L567 480 L618 548 L623 551 L710 593" fill="none" stroke="#1c1c1c" stroke-width="1.4"/>
<path d="M529 449 L564 459 L571 462.4 L575 468 L622 543 L626 544.4 L710 585" fill="none" stroke="#1c1c1c" stroke-width="1.4"/>
<path d="M523 454 L563 463 L568 466 L572 472 L619 545 L624 548 L710 589" fill="none" stroke="#1c1c1c" stroke-width="1.2"/>
<path d="M520 453 L523 451 L529 449" fill="none" stroke="#1c1c1c" stroke-width="1.2"/>
<path d="M620 547 L625.6 543.6" fill="none" stroke="#1c1c1c" stroke-width="1.2"/>
<path d="M564 475 L569 490 L588 561" fill="none" stroke="#1c1c1c" stroke-width="1.3"/>
<path d="M570 494 C573.3 500 582.7 518.3 590 530 C597.3 541.7 603.3 552.3 614 564 C624.7 575.7 647.3 594 654 600" fill="none" stroke="#1c1c1c" stroke-width="1.2"/>
<path d="M530 410 L534 406 L574 420 L579 417 L586 413 L588 400" fill="none" stroke="#1c1c1c" stroke-width="1.3"/>
<path d="M531.6 411 L532.4 450" fill="none" stroke="#1c1c1c" stroke-width="1.2"/>
<path d="M576 421 C577.2 424 580.8 435 583 439 C585.2 443 584.8 440.2 589 445 C593.2 449.8 601.8 460.3 608 468 C614.2 475.7 622.3 486.7 626 491 C629.7 495.3 628.7 493.7 630 494 C631.3 494.3 632.7 494 634 493 C635.3 492 637.3 488.8 638 488" fill="none" stroke="#1c1c1c" stroke-width="1.3"/>
<path d="M580 419 C581.2 421.8 585 432.3 587 436 C589 439.7 589.2 437.3 592 441 C594.8 444.7 597 450.8 604 458 C611 465.2 628 479 634 484 C640 489 639 487.3 640 488" fill="none" stroke="#1c1c1c" stroke-width="1.2"/>
<path d="M587 413 C587.7 415.8 589.2 425.5 591 430 C592.8 434.5 594.2 435.3 598 440 C601.8 444.7 608 452.3 614 458 C620 463.7 628.3 470.5 634 474 C639.7 477.5 645.7 478.2 648 479" fill="none" stroke="#1c1c1c" stroke-width="1.2"/>
<path d="M591 404 C591.5 407.3 592.3 418.8 594 424 C595.7 429.2 597 430 601 435 C605 440 611.8 448.2 618 454 C624.2 459.8 632.7 466.7 638 470 C643.3 473.3 648 473.3 650 474" fill="none" stroke="#1c1c1c" stroke-width="1.3"/>
<path d="M582 438 L598 432" fill="none" stroke="#1c1c1c" stroke-width="1.2"/>
<path d="M589 445 L601 438" fill="none" stroke="#1c1c1c" stroke-width="1.2"/>
<path d="M576 421 L587 413" fill="none" stroke="#1c1c1c" stroke-width="1.2"/>
<path d="M600 433 L648 408" fill="none" stroke="#1c1c1c" stroke-width="1.4"/>
<path d="M648 408 C648.3 408.7 648.7 406.7 650 412 C651.3 417.3 654 433.3 656 440 C658 446.7 659.7 448.7 662 452 C664.3 455.3 668.7 458.7 670 460" fill="none" stroke="#1c1c1c" stroke-width="1.4"/>
<path d="M648 430 L710 400" fill="none" stroke="#1c1c1c" stroke-width="1.2"/>
<path d="M648 430 L650 436 L654 440 L710 412" fill="none" stroke="#1c1c1c" stroke-width="1.2"/>
<path d="M664 450 L710 426" fill="none" stroke="#1c1c1c" stroke-width="1.2"/>
<path d="M670 460 C671.3 461.5 676 466.8 678 469 C680 471.2 681.3 471.3 682 473 C682.7 474.7 683 477.2 682 479 C681 480.8 681.7 482.5 676 484 C670.3 485.5 652.7 487.3 648 488" fill="none" stroke="#1c1c1c" stroke-width="1.2"/>
<path d="M648 473 C652.7 472.2 670.3 468 676 468 C681.7 468 681 472.2 682 473" fill="none" stroke="#1c1c1c" stroke-width="1.2"/>
<path d="M648 479 L679 476" fill="none" stroke="#1c1c1c" stroke-width="1.2"/>
<path d="M700 444 L670 460 L650 471 L648 479" fill="none" stroke="#1c1c1c" stroke-width="1.5"/>
<path d="M638 488 C640 489.3 645.3 493 650 496 C654.7 499 661.7 503.8 666 506 C670.3 508.2 672 510.7 676 509 C680 507.3 685.7 500.2 690 496 C694.3 491.8 698.7 486.3 702 484 C705.3 481.7 708.7 482.3 710 482" fill="none" stroke="#1c1c1c" stroke-width="1.3"/>
<path d="M650 496 L702 480" fill="none" stroke="#1c1c1c" stroke-width="1.2"/>
<path d="M646 496 L648 544 L654 549 L710 562" fill="none" stroke="#1c1c1c" stroke-width="1.3"/>
<path d="M652 498 L654 546" fill="none" stroke="#1c1c1c" stroke-width="1.2"/>
<path d="M655 499 L657 545 L710 558" fill="none" stroke="#1c1c1c" stroke-width="1.2"/>
<path d="M678 508 C678.3 511.3 678 523 680 528 C682 533 685 535.3 690 538 C695 540.7 706.7 543 710 544" fill="none" stroke="#1c1c1c" stroke-width="1.2"/>
<path d="M682 509 C682.3 511.8 682.3 521.8 684 526 C685.7 530.2 687.7 532 692 534 C696.3 536 707 537.3 710 538" fill="none" stroke="#1c1c1c" stroke-width="1.2"/>
<path d="M696 514 C696.2 515.3 696 519.7 697 522 C698 524.3 699.8 526.7 702 528 C704.2 529.3 708.7 529.7 710 530" fill="none" stroke="#1c1c1c" stroke-width="1.2"/>
<path d="M702 504 L696 514" fill="none" stroke="#1c1c1c" stroke-width="1.2"/>
<path d="M737 400 C737.2 404 737.7 411.3 738 424 C738.3 436.7 738.7 465.3 739 476 C739.3 486.7 738.8 485.3 740 488 C741.2 490.7 745 491.3 746 492" fill="none" stroke="#1c1c1c" stroke-width="1.4"/>
<path d="M730 400 C729.8 402 730.3 408.7 729 412 C727.7 415.3 726.8 416.7 722 420 C717.2 423.3 703.7 430 700 432" fill="none" stroke="#1c1c1c" stroke-width="1.2"/>
<path d="M720 400 C721 401.7 726 407 726 410 C726 413 724.3 415 720 418 C715.7 421 703.3 426.3 700 428" fill="none" stroke="#1c1c1c" stroke-width="1.2"/>
<path d="M739 476 L747 479 L748 492" fill="none" stroke="#1c1c1c" stroke-width="1.3"/>
<path d="M747 479 L762 482 L786 490" fill="none" stroke="#1c1c1c" stroke-width="1.2"/>
<path d="M748 492 L760 484 L766 483" fill="none" stroke="#1c1c1c" stroke-width="1.2"/>
<path d="M748 400 C749 401.7 751.7 407.2 754 410 C756.3 412.8 757.7 414 762 417 C766.3 420 776.3 425.8 780 428 C783.7 430.2 783.3 429.7 784 430" fill="none" stroke="#1c1c1c" stroke-width="1.4"/>
<path d="M784 430 L840 412" fill="none" stroke="#1c1c1c" stroke-width="1.4"/>
<path d="M784 430 C783.5 430.7 781.3 432 781 434 C780.7 436 780.8 439.3 782 442 C783.2 444.7 786 448.3 788 450 C790 451.7 793 451.7 794 452" fill="none" stroke="#1c1c1c" stroke-width="1.3"/>
<path d="M794 452 L840 462 L848 460" fill="none" stroke="#1c1c1c" stroke-width="1.3"/>
<path d="M780 428 C783.3 429 790.3 435.3 800 434 C809.7 432.7 831.3 423.7 838 420 C844.7 416.3 839.7 413.3 840 412" fill="none" stroke="#1c1c1c" stroke-width="1.2"/>
<path d="M800 434 L802 440 L840 427" fill="none" stroke="#1c1c1c" stroke-width="1.2"/>
<path d="M818 440 C818.3 438.8 817.7 438.3 822 437 C826.3 435.7 839.5 433 844 432 C848.5 431 848 430.5 849 431 C850 431.5 845.8 431.3 850 435 C854.2 438.7 869.7 449.3 874 453 C878.3 456.7 877 455.7 876 457 C875 458.3 870.7 460.5 868 461 C865.3 461.5 868 462.8 860 460 C852 457.2 827 447.3 820 444 C813 440.7 817.7 441.2 818 440 Z" fill="none" stroke="#1c1c1c" stroke-width="1.3"/>
<path d="M824 440.6 L846 435.4 L869 453" fill="none" stroke="#1c1c1c" stroke-width="1.2"/>
<path d="M828 443 L847 438 L866 454" fill="none" stroke="#1c1c1c" stroke-width="1.2"/>
<path d="M743 517 L796 488 L840 463 L848 460" fill="none" stroke="#1c1c1c" stroke-width="1.4"/>
<path d="M743 518 L796 531 L798 532 L799 536 L799 574" fill="none" stroke="#1c1c1c" stroke-width="1.4"/>
<path d="M798 532 L900 480" fill="none" stroke="#1c1c1c" stroke-width="1.4"/>
<path d="M754 516 C752.3 514.3 754.7 514.3 758 512 C761.3 509.7 770.3 503.3 774 502 C777.7 500.7 778.3 502.3 780 504 C781.7 505.7 784 509.3 784 512 C784 514.7 782.7 518.3 780 520 C777.3 521.7 772.3 522.7 768 522 C763.7 521.3 755.7 517.7 754 516 Z" fill="none" stroke="#1c1c1c" stroke-width="1.3"/>
<path d="M760 514 L775 505 L780 508" fill="none" stroke="#1c1c1c" stroke-width="1.2"/>
<path d="M786 493 L788 496 L798 494 L800 506 L790 509 L788 496" fill="none" stroke="#1c1c1c" stroke-width="1.3"/>
<path d="M786 493 L796 491 L798 494" fill="none" stroke="#1c1c1c" stroke-width="1.2"/>
<path d="M700 516 L740 528 L743 518" fill="none" stroke="#1c1c1c" stroke-width="1.3"/>
<path d="M700 528 L738 540 L740 528" fill="none" stroke="#1c1c1c" stroke-width="1.2"/>
<path d="M700 540 L736 549 L738 540" fill="none" stroke="#1c1c1c" stroke-width="1.2"/>
<path d="M700 554 C705.7 555.3 727.3 561 734 562 C740.7 563 738.5 563 740 560 C741.5 557 742 545.8 743 544 C744 542.2 744.5 539.7 746 549 C747.5 558.3 751 591.5 752 600" fill="none" stroke="#1c1c1c" stroke-width="1.3"/>
<path d="M736 549 L740 544 L743 544" fill="none" stroke="#1c1c1c" stroke-width="1.2"/>
<path d="M700 568 L734 576" fill="none" stroke="#1c1c1c" stroke-width="1.2"/>
<path d="M700 580 L728 594 L732 600" fill="none" stroke="#1c1c1c" stroke-width="1.2"/>
<path d="M712 500 L720 502 L738 508 L743 518" fill="none" stroke="#1c1c1c" stroke-width="1.2"/>
<path d="M700 484 C701.3 484.2 706 483.7 708 485 C710 486.3 711.7 489.2 712 492 C712.3 494.8 712 498.7 710 502 C708 505.3 701.7 510.3 700 512" fill="none" stroke="#1c1c1c" stroke-width="1.4"/>
<path d="M730 498 L766 504" fill="none" stroke="#1c1c1c" stroke-width="1.2"/>
<path d="M733 496.4 L747 500" fill="none" stroke="#1c1c1c" stroke-width="1.6"/>
<path d="M738 497.6 L752 501.2" fill="none" stroke="#1c1c1c" stroke-width="1.6"/>
<path d="M743 498.8 L757 502.4" fill="none" stroke="#1c1c1c" stroke-width="1.6"/>
<path d="M748 500 L762 503.6" fill="none" stroke="#1c1c1c" stroke-width="1.6"/>
<path d="M753 501.2 L767 504.8" fill="none" stroke="#1c1c1c" stroke-width="1.6"/>
<path d="M804 580 L808 600" fill="none" stroke="#1c1c1c" stroke-width="1.2"/>
<path d="M798 574 L799 578 L806 580" fill="none" stroke="#1c1c1c" stroke-width="1.2"/>
<path d="M800 379 C802 380.5 807 385.5 812 388 C817 390.5 826.3 392 830 394 C833.7 396 832.3 398 834 400 C835.7 402 836.7 404.2 840 406 C843.3 407.8 850.8 409.3 854 411 C857.2 412.7 858 413.2 859 416 C860 418.8 859.2 425 860 428 C860.8 431 860.7 432 864 434 C867.3 436 877.3 439 880 440" fill="none" stroke="#1c1c1c" stroke-width="1.4"/>
<path d="M800 431 L840 417 L854 411" fill="none" stroke="#1c1c1c" stroke-width="1.2"/>
<path d="M800 428 L836 415" fill="none" stroke="#1c1c1c" stroke-width="1.2"/>
<path d="M830 394 L800 405" fill="none" stroke="#1c1c1c" stroke-width="1.2"/>
<path d="M878 451 L882 447 L902 433 L908 433 L914 440 L920 439 L932 439 L940 441 L944 448 L949 445 L952 450 L960 452 L965 456 L965 482 L974 490 L973 544 L971 570" fill="none" stroke="#1c1c1c" stroke-width="1.5"/>
<path d="M880 452 L904 437 L909 438 L912 446 L902 454 L886 454 L880 452" fill="none" stroke="#1c1c1c" stroke-width="1.2"/>
<path d="M903 457 L912 450 L930 449 L936 452 L928 459 L912 462 L903 457" fill="none" stroke="#1c1c1c" stroke-width="1.6"/>
<path d="M909 456.4 L916 452.4 L928 452 L931 454 L924 458 L914 459.6 L909 456.4" fill="none" stroke="#1c1c1c" stroke-width="1.0"/>
<path d="M917 455 L925 454" fill="none" stroke="#1c1c1c" stroke-width="2"/>
<path d="M938 456 L944 448" fill="none" stroke="#1c1c1c" stroke-width="1.2"/>
<path d="M938 456 L944 464 L952 464 L958 458 L960 452" fill="none" stroke="#1c1c1c" stroke-width="1.2"/>
<path d="M916 468 L938 456" fill="none" stroke="#1c1c1c" stroke-width="1.3"/>
<path d="M880 470 C881.3 469 882.7 466.8 888 466 C893.3 465.2 907.3 464.7 912 465 C916.7 465.3 915.5 465.2 916 468 C916.5 470.8 916.3 478 915 482 C913.7 486 910.2 489.8 908 492 C905.8 494.2 903.7 495.3 902 495 C900.3 494.7 899.3 492.8 898 490 C896.7 487.2 897 481 894 478 C891 475 882.3 473.3 880 472 C877.7 470.7 878.7 471 880 470 Z" fill="none" stroke="#1c1c1c" stroke-width="1.3"/>
<path d="M890 468 C891.3 469 896.3 470.3 898 474 C899.7 477.7 899.7 487.3 900 490" fill="none" stroke="#1c1c1c" stroke-width="1.2"/>
<path d="M904 466 C904.7 468 908 473.5 908 478 C908 482.5 904.7 490.5 904 493" fill="none" stroke="#1c1c1c" stroke-width="1.2"/>
<path d="M894 478 C895.7 477.7 900.5 476.5 904 476 C907.5 475.5 913.2 475.2 915 475" fill="none" stroke="#1c1c1c" stroke-width="1.2"/>
<path d="M897 486 C898.5 485.8 903.5 485 906 485 C908.5 485 911 485.8 912 486" fill="none" stroke="#1c1c1c" stroke-width="1.2"/>
<path d="M806 498 L888 457" fill="none" stroke="#1c1c1c" stroke-width="2.2"/>
<path d="M805 496 L887 455" fill="none" stroke="#1c1c1c" stroke-width="1.0"/>
<path d="M807 500.4 L889 459.4" fill="none" stroke="#1c1c1c" stroke-width="1.0"/>
<ellipse cx="889" cy="457.6" rx="2.4" ry="1.8" fill="none" stroke="#1c1c1c" stroke-width="2.4"/>
<ellipse cx="897" cy="459" rx="2" ry="1.6" fill="none" stroke="#1c1c1c" stroke-width="2.4"/>
<ellipse cx="808" cy="500" rx="3.2" ry="2.4" fill="none" stroke="#1c1c1c" stroke-width="2"/>
<path d="M802 512 C802.3 509.8 805.7 505.3 810 504 C814.3 502.7 824.2 503.3 828 504 C831.8 504.7 833.7 506.2 833 508 C832.3 509.8 828.2 513.5 824 515 C819.8 516.5 811.7 517.5 808 517 C804.3 516.5 801.7 514.2 802 512 Z" fill="none" stroke="#1c1c1c" stroke-width="1.5"/>
<path d="M813 502 L813 510" fill="none" stroke="#1c1c1c" stroke-width="2.4"/>
<path d="M820 500 L820 508" fill="none" stroke="#1c1c1c" stroke-width="2.4"/>
<path d="M840 495 C842.7 490.5 862 481.8 870 479 C878 476.2 884.2 477.7 888 478 C891.8 478.3 893 479.3 893 481 C893 482.7 893.5 483.8 888 488 C882.5 492.2 865.7 503 860 506 C854.3 509 857.3 507.8 854 506 C850.7 504.2 837.3 499.5 840 495 Z" fill="none" stroke="#1c1c1c" stroke-width="1.3"/>
<path d="M844.4 496.4 L870 482 L886.4 481.2" fill="none" stroke="#1c1c1c" stroke-width="1.2"/>
<path d="M854 506 L858 501 L888 485" fill="none" stroke="#1c1c1c" stroke-width="1.2"/>
<path d="M800 570 C805.3 563.3 825.7 537 832 530 C838.3 523 835.7 527.5 838 528 C840.3 528.5 843.7 529.7 846 533 C848.3 536.3 850 543.3 852 548 C854 552.7 856 558.2 858 561 C860 563.8 855.7 568.5 864 565 C872.3 561.5 899.3 545.2 908 540 C916.7 534.8 914 536.7 916 534 C918 531.3 918.7 531.7 920 524 C921.3 516.3 922.3 495.2 924 488 C925.7 480.8 927.3 482.3 930 481 C932.7 479.7 933.3 478.8 940 480 C946.7 481.2 964.3 486.3 970 488 C975.7 489.7 973.3 489.7 974 490" fill="none" stroke="#1c1c1c" stroke-width="1.5"/>
<path d="M806 570 C810.7 564.2 828.5 541.2 834 535 C839.5 528.8 837.3 532.5 839 533 C840.7 533.5 842.2 534.8 844 538 C845.8 541.2 847.7 547.3 850 552 C852.3 556.7 855.3 563.2 858 566 C860.7 568.8 857.3 572.7 866 569 C874.7 565.3 901 549.5 910 544 C919 538.5 917.7 539 920 536 C922.3 533 922.7 533.7 924 526 C925.3 518.3 926.5 496.8 928 490 C929.5 483.2 931 486 933 485 C935 484 933.5 482.7 940 484 C946.5 485.3 966.7 491.5 972 493" fill="none" stroke="#1c1c1c" stroke-width="1.2"/>
<ellipse cx="943" cy="514" rx="10" ry="24.4" fill="none" stroke="#1c1c1c" stroke-width="1.5" transform="rotate(3 943 514)"/>
<ellipse cx="945.4" cy="514.4" rx="7" ry="21" fill="none" stroke="#1c1c1c" stroke-width="1.2" transform="rotate(3 945.4 514.4)"/>
<ellipse cx="944" cy="514.4" rx="8.4" ry="22.8" fill="none" stroke="#1c1c1c" stroke-width="0.8" transform="rotate(3 944 514.4)"/>
<ellipse cx="963" cy="516" rx="9" ry="25" fill="none" stroke="#1c1c1c" stroke-width="1.5" transform="rotate(3 963 516)"/>
<ellipse cx="965" cy="516.4" rx="6" ry="21.6" fill="none" stroke="#1c1c1c" stroke-width="1.2" transform="rotate(3 965 516.4)"/>
<path d="M864 570 L960 559 L966 562 L965 570" fill="none" stroke="#1c1c1c" stroke-width="1.2"/>
<path d="M860 565.6 L960 556" fill="none" stroke="#1c1c1c" stroke-width="1.2"/>
<path d="M915 389 L915 402" fill="none" stroke="#333" stroke-width="3.0"/>
<path d="M922.8 382.4 L922.8 395" fill="none" stroke="#555" stroke-width="2.6"/>
<path d="M915 403 L915 436" fill="none" stroke="#1c1c1c" stroke-width="1.1" stroke-dasharray="3.5 2.5"/>
<path d="M922.8 396 L923.6 438" fill="none" stroke="#1c1c1c" stroke-width="1.1" stroke-dasharray="3.5 2.5"/>
<path d="M635.6 226.9 C636.1 226 634.3 226.2 638.8 225 C643.2 223.8 657.9 220.2 662.5 219.4 C667.1 218.5 664.2 219.1 666.2 220 C668.3 220.9 672.9 223.4 675 225 C677.1 226.6 678.3 228.1 678.8 229.4 C679.2 230.6 678.3 231.6 677.5 232.5 C676.7 233.4 677.7 233.8 673.8 235 C669.8 236.2 657.7 239.5 653.8 240 C649.8 240.5 651 239 650 238.1 C649 237.3 649.9 236.4 647.5 235 C645.1 233.6 637.6 231.4 635.6 230 C633.6 228.6 635.1 227.7 635.6 226.9 Z" fill="none" stroke="#1c1c1c" stroke-width="1.4"/>
<path d="M638.8 226.9 C640.8 228 646.5 233.2 651.2 233.8 C656 234.3 663.5 231.2 667.5 230 C671.5 228.8 673.8 226.9 675 226.2" fill="none" stroke="#1c1c1c" stroke-width="1.2"/>
<path d="M651.2 233.8 L651.9 238.1" fill="none" stroke="#1c1c1c" stroke-width="1.2"/>
<path d="M649.4 236.2 C649.9 236.5 648.9 238.1 652.8 237.5 C656.6 236.9 668.6 234 672.5 232.8 C676.4 231.5 675.6 230.5 676.2 230" fill="none" stroke="#1c1c1c" stroke-width="1.2"/>
<path d="M635.6 230 L635 237.5" fill="none" stroke="#1c1c1c" stroke-width="1.2"/>
<path d="M678.8 229.4 L682.5 230.6 L730 231.2 L732.5 232.5" fill="none" stroke="#1c1c1c" stroke-width="1.4"/>
<path d="M651.2 242.5 L675.6 256.9 L687.5 256.5" fill="none" stroke="#1c1c1c" stroke-width="1.2"/>
<path d="M676.9 256.5 L676.9 300" fill="none" stroke="#1c1c1c" stroke-width="1.2"/>
<path d="M690 256.9 L690.6 307.5" fill="none" stroke="#1c1c1c" stroke-width="1.2"/>
<path d="M633.1 275 L673.8 300" fill="none" stroke="#1c1c1c" stroke-width="1.2"/>
<path d="M623.8 283.8 L627.5 286.2 L671.2 304" fill="none" stroke="#1c1c1c" stroke-width="1.2"/>
<path d="M630 300 L653.8 306.2 L667.5 308.1 L672.5 305 L675 300" fill="none" stroke="#1c1c1c" stroke-width="1.3"/>
<path d="M620 287.5 L626.2 290 L629.4 300 L630 325" fill="none" stroke="#1c1c1c" stroke-width="1.2"/>
<path d="M653.8 306.2 L653.1 325" fill="none" stroke="#1c1c1c" stroke-width="1.2"/>
<path d="M667.5 308.1 L668.1 325" fill="none" stroke="#1c1c1c" stroke-width="1.2"/>
<path d="M691.2 306.9 L735.6 285.2" fill="none" stroke="#1c1c1c" stroke-width="1.2"/>
<ellipse cx="636.9" cy="237.5" rx="2.5" ry="2.5" fill="#222" stroke="#1c1c1c" stroke-width="1"/>
<ellipse cx="640.6" cy="241.2" rx="2.2" ry="2.2" fill="#222" stroke="#1c1c1c" stroke-width="1"/>
<ellipse cx="637.5" cy="246.2" rx="2.5" ry="2.5" fill="#222" stroke="#1c1c1c" stroke-width="1"/>
<ellipse cx="641.2" cy="250" rx="2" ry="2" fill="#222" stroke="#1c1c1c" stroke-width="1"/>
<ellipse cx="636.9" cy="255" rx="2.5" ry="2.5" fill="#222" stroke="#1c1c1c" stroke-width="1"/>
<ellipse cx="640" cy="258.8" rx="1.8" ry="1.8" fill="#222" stroke="#1c1c1c" stroke-width="1"/>
<ellipse cx="637.5" cy="263.8" rx="1.8" ry="1.8" fill="#222" stroke="#1c1c1c" stroke-width="1"/>
<ellipse cx="636.9" cy="237.5" rx="0.9" ry="0.9" fill="#fff" stroke="#fff" stroke-width="1"/>
<ellipse cx="637.5" cy="246.2" rx="0.9" ry="0.9" fill="#fff" stroke="#fff" stroke-width="1"/>
<ellipse cx="636.9" cy="255" rx="0.8" ry="0.8" fill="#fff" stroke="#fff" stroke-width="1"/>
<path d="M644.4 237.5 L645.6 245 L642.5 260" fill="none" stroke="#1c1c1c" stroke-width="1.6"/>
<path d="M666.9 254.4 L667.2 258.1" fill="none" stroke="#1c1c1c" stroke-width="3"/>
<path d="M732 595 L738 598 L742.4 605" fill="none" stroke="#1c1c1c" stroke-width="1.4"/>
<path d="M730 598 L736 602 L740 609" fill="none" stroke="#1c1c1c" stroke-width="1.2"/>
<path d="M728 600 L734 605 L737 611" fill="none" stroke="#1c1c1c" stroke-width="1.4"/>
<path d="M657 545 L736 562" fill="none" stroke="#1c1c1c" stroke-width="1.2"/>
<path d="M710 562 L736 567.6 L740 562.4 L738.4 548 L740 542 L744 540" fill="none" stroke="#1c1c1c" stroke-width="1.3"/>
<path d="M736 546 L737.6 562.4" fill="none" stroke="#1c1c1c" stroke-width="1.2"/>
<path d="M744 540 C744.5 542 745.7 543.7 747 552 C748.3 560.3 749.8 574.7 752 590 C754.2 605.3 757.3 627 760 644 C762.7 661 766.7 684 768 692" fill="none" stroke="#1c1c1c" stroke-width="1.4"/>
<path d="M738 544 C738.3 546.7 739 549.7 740 560 C741 570.3 742 589.3 744 606 C746 622.7 749.7 644.7 752 660 C754.3 675.3 757 691.7 758 698" fill="none" stroke="#1c1c1c" stroke-width="1.3"/>
<path d="M600 544 C603.3 547.7 611.7 556.7 620 566 C628.3 575.3 640 589.7 650 600 C660 610.3 669.7 619.3 680 628 C690.3 636.7 703.3 645.7 712 652 C720.7 658.3 726 662 732 666 C738 670 745.3 674.3 748 676" fill="none" stroke="#1c1c1c" stroke-width="1.4"/>
<path d="M598 546 C601.3 549.7 609.7 559 618 568.4 C626.3 577.8 638 592.1 648 602.4 C658 612.7 667.7 621.7 678 630.4 C688.3 639.1 701.3 648.1 710 654.4 C718.7 660.7 723.8 664.3 730 668.4 C736.2 672.5 744.2 677.2 747 679" fill="none" stroke="#1c1c1c" stroke-width="1.0"/>
<path d="M740 609 L750 678 L756 698" fill="none" stroke="#1c1c1c" stroke-width="1.2"/>
<path d="M737 611 L748 678" fill="none" stroke="#1c1c1c" stroke-width="1.2"/>
<path d="M753 650 C752.3 643 754.3 648.8 755 649 C755.7 649.2 755.8 644.2 757 651 C758.2 657.8 761.7 683.3 762 690 C762.3 696.7 760.5 697.7 759 691 C757.5 684.3 753.7 657 753 650 Z" fill="none" stroke="#1c1c1c" stroke-width="1.3"/>
<path d="M722 684 C722.5 682.3 723.7 676.5 725 674 C726.3 671.5 728.2 669.3 730 669 C731.8 668.7 734.2 669.5 736 672 C737.8 674.5 739.8 680 741 684 C742.2 688 742.7 694 743 696" fill="none" stroke="#1c1c1c" stroke-width="1.3"/>
<path d="M730 669 C731 670.8 734.3 675.8 736 680 C737.7 684.2 739.3 691.7 740 694" fill="none" stroke="#1c1c1c" stroke-width="1.2"/>
<path d="M709 683 L722 689 L744 696 L756 699 L760 694 L766 692 L790 697 L795 694 L800 688" fill="none" stroke="#1c1c1c" stroke-width="1.4"/>
<path d="M800 652 C799.5 656.7 797.8 673 797 680 C796.2 687 795.3 691.7 795 694" fill="none" stroke="#1c1c1c" stroke-width="1.2"/>
<path d="M796 540 L797 570 L800 576" fill="none" stroke="#1c1c1c" stroke-width="1.3"/>
<path d="M797 540 L797 573 L802 578 L807 577" fill="none" stroke="#1c1c1c" stroke-width="1.4"/>
<path d="M807 578 C805.8 588.3 802.2 620.7 800 640 C797.8 659.3 795.7 684.3 794 694 C792.3 703.7 792.3 698 790 698 C787.7 698 781.7 694.7 780 694" fill="none" stroke="#1c1c1c" stroke-width="1.4"/>
<path d="M805 580 L797 696" fill="none" stroke="#1c1c1c" stroke-width="1.2"/>
<ellipse cx="819" cy="593" rx="10" ry="25" fill="none" stroke="#1c1c1c" stroke-width="1.5" transform="rotate(8 819 593)"/>
<ellipse cx="821" cy="593.6" rx="7.2" ry="21.6" fill="none" stroke="#1c1c1c" stroke-width="1.2" transform="rotate(8 821 593.6)"/>
<ellipse cx="840" cy="566" rx="9.2" ry="25" fill="none" stroke="#1c1c1c" stroke-width="1.5" transform="rotate(8 840 566)"/>
<ellipse cx="842" cy="566.6" rx="6.6" ry="21.6" fill="none" stroke="#1c1c1c" stroke-width="1.2" transform="rotate(8 842 566.6)"/>
<path d="M797 572 L828 540" fill="none" stroke="#1c1c1c" stroke-width="1.2"/>
<path d="M802 578 L832.4 543.6" fill="none" stroke="#1c1c1c" stroke-width="1.2"/>
<path d="M852 540 C852.8 544 855.3 559.3 857 564 C858.7 568.7 851.8 572 862 568 C872.2 564 908.7 544.7 918 540" fill="none" stroke="#1c1c1c" stroke-width="1.3"/>
<path d="M849 540 C850 544.5 853 561.8 855 567 C857 572.2 850.2 575.5 861 571.4 C871.8 567.3 910.2 547.2 920 542.4" fill="none" stroke="#1c1c1c" stroke-width="1.2"/>
<path d="M807 638 C808.5 636.7 803.2 638.2 816 630 C828.8 621.8 860 600.8 884 589 C908 577.2 946.3 563.8 960 559 C973.7 554.2 964.5 558.8 966 560 C967.5 561.2 969.3 559 969 566 C968.7 573 965.5 595 964 602 C962.5 609 961.7 606.8 960 608 C958.3 609.2 966.3 612 954 609 C941.7 606 897.3 593.2 886 590" fill="none" stroke="#1c1c1c" stroke-width="1.5"/>
<path d="M888 588 L954 606 L958 602 L962 564 L959 561" fill="none" stroke="#1c1c1c" stroke-width="1.2"/>
<path d="M968 540 L969 566" fill="none" stroke="#1c1c1c" stroke-width="1.4"/>
<path d="M908 600 L909 608 L920 613 L934 611 L935 605" fill="none" stroke="#1c1c1c" stroke-width="1.5"/>
<ellipse cx="921.4" cy="603.6" rx="13.2" ry="4" fill="none" stroke="#1c1c1c" stroke-width="1.5" transform="rotate(5 921.4 603.6)"/>
<path d="M909 605 C910.8 605.8 915.8 609.5 920 610 C924.2 610.5 932 608.3 934.4 608" fill="none" stroke="#1c1c1c" stroke-width="1.2"/>
<path d="M223.5 576 L246 561.5 L250 560 L274 549 L288 548 L306.5 547.5 L277 564 L275 568 L271 570 L232 587 L230 586 L229 583 L226 581 L225 578 Z" fill="none" stroke="#1c1c1c" stroke-width="1.2"/>
<text transform="translate(292.5,549.5) rotate(158) skewX(-15) scale(1.72,1)" style="font-size:9px;font-weight:bold;fill:#fff;stroke:#1c1c1c;stroke-width:0.75px;letter-spacing:0.2px">HAMMER</text>
<path d="M253.8 369.4 C255.6 370 261.5 371.5 265 373.1 C268.5 374.7 273.3 378 275 379" fill="none" stroke="#1c1c1c" stroke-width="2.6"/>
<path d="M276.9 380.2 C278.2 380.8 282.5 382.1 285 383.8 C287.5 385.4 290.7 389 291.9 390" fill="none" stroke="#1c1c1c" stroke-width="2.6"/>
<path d="M255 371.2 L266.2 376.2" fill="none" stroke="#fff" stroke-width="1.0"/>
<path d="M290 391.2 L293.1 394.4" fill="none" stroke="#1c1c1c" stroke-width="1.6"/>
<rect x="0" y="360" width="43.6" height="340" fill="#fff" stroke="none"/>
<path d="M648 456 L764 456 L764 600 L740 592 L648 549 Z" fill="#fff" stroke="none"/>
<path d="M664.8 455.6 L670 462" fill="none" stroke="#1c1c1c" stroke-width="1.5"/>
<path d="M670 462 L700 444" fill="none" stroke="#1c1c1c" stroke-width="1.6"/>
<path d="M670 462 L646 475.6" fill="none" stroke="#1c1c1c" stroke-width="1.4"/>
<path d="M646 475.6 C651 474.5 670.2 470.1 676 469 C681.8 467.9 679.9 468.2 681 469 C682.1 469.8 682.6 472.4 682.4 474 C682.2 475.6 685.7 476.4 680 478.4 C674.3 480.4 653.3 484.7 648 486" fill="none" stroke="#1c1c1c" stroke-width="1.3"/>
<path d="M646 475.6 L648 486" fill="none" stroke="#1c1c1c" stroke-width="1.2"/>
<path d="M647.2 479.2 L680 474" fill="none" stroke="#1c1c1c" stroke-width="1.2"/>
<path d="M647.6 482.6 L680.8 476.6" fill="none" stroke="#1c1c1c" stroke-width="1.2"/>
<path d="M676.4 469.2 L677.2 480" fill="none" stroke="#1c1c1c" stroke-width="1.2"/>
<path d="M648 486 C648.2 486.3 649 486.3 649 488 C649 489.7 648.2 494.7 648 496" fill="none" stroke="#1c1c1c" stroke-width="1.2"/>
<path d="M648 487 C653.3 486.5 672.7 484.3 680 484 C687.3 483.7 688.7 485.3 692 485 C695.3 484.7 697.3 482.2 700 482 C702.7 481.8 706 482.7 708 484 C710 485.3 711.3 487.6 712 489.6 C712.7 491.6 712.3 494.9 712.4 496" fill="none" stroke="#1c1c1c" stroke-width="1.4"/>
<path d="M648 496 L666 504 L669 501 L698 485 L707 484" fill="none" stroke="#1c1c1c" stroke-width="1.3"/>
<path d="M666 504 L678 508 L710 498.4 L712.4 496" fill="none" stroke="#1c1c1c" stroke-width="1.3"/>
<path d="M669 501 L680 505" fill="none" stroke="#1c1c1c" stroke-width="1.2"/>
<path d="M680 505 L708 496.4" fill="none" stroke="#1c1c1c" stroke-width="1.2"/>
<path d="M678 508 C678.3 511 678.8 522.3 680 526 C681.2 529.7 682.7 529.8 685 530 C687.3 530.2 691.8 528.7 694 527 C696.2 525.3 697 522.3 698 520 C699 517.7 699 515 700 513 C701 511 702 510.2 704 508 C706 505.8 710.7 501.3 712 500" fill="none" stroke="#1c1c1c" stroke-width="1.3"/>
<path d="M682 508 C682.3 510.5 682.8 519.9 683.6 523 C684.4 526.1 685.4 526.2 687 526.4 C688.6 526.6 691.5 525.6 693 524.4 C694.5 523.2 695.5 519.9 696 519" fill="none" stroke="#1c1c1c" stroke-width="1.2"/>
<path d="M700 498 C699.5 499.7 697.3 504.7 697 508 C696.7 511.3 697.8 516.3 698 518" fill="none" stroke="#1c1c1c" stroke-width="1.2"/>
<path d="M648 496 L646 498 L649 544 L654 549 L736 568 L740 564 L737 547" fill="none" stroke="#1c1c1c" stroke-width="1.4"/>
<path d="M652 498.4 L655 542 L659 546 L735 563" fill="none" stroke="#1c1c1c" stroke-width="1.2"/>
<path d="M656 500 L658 540" fill="none" stroke="#1c1c1c" stroke-width="1.2"/>
<path d="M700 513 L740 522 L742 518 L760 510" fill="none" stroke="#1c1c1c" stroke-width="1.2"/>
<path d="M698 520 L738 529" fill="none" stroke="#1c1c1c" stroke-width="1.2"/>
<path d="M685 530 L736 542 L738 538 L740 522" fill="none" stroke="#1c1c1c" stroke-width="1.3"/>
<path d="M700 524.4 L738 534" fill="none" stroke="#1c1c1c" stroke-width="1.2"/>
<path d="M712 500 L760 511" fill="none" stroke="#1c1c1c" stroke-width="1.2"/>
<path d="M714.4 498 L734 502 L760 508" fill="none" stroke="#1c1c1c" stroke-width="1.2"/>
<path d="M734 455 L736 464 L739 476 L741 488 L747 492 L760 484" fill="none" stroke="#1c1c1c" stroke-width="1.4"/>
<path d="M747 478 L747 492" fill="none" stroke="#1c1c1c" stroke-width="1.2"/>
<path d="M747 478 L760 476" fill="none" stroke="#1c1c1c" stroke-width="1.2"/>
<path d="M750.4 480 L750.4 490" fill="none" stroke="#1c1c1c" stroke-width="1.2"/>
<path d="M736 546.4 L740 542 L744 546 L752 580" fill="none" stroke="#1c1c1c" stroke-width="1.3"/>
<path d="M736 568 L738 580" fill="none" stroke="#1c1c1c" stroke-width="1.2"/>
<path d="M741 545 L748 580" fill="none" stroke="#1c1c1c" stroke-width="1.2"/>
<rect x="700" y="400" width="100" height="200" fill="#fff" stroke="none"/>
<path d="M735 400 L735.5 424 L738.5 426.5 L739.8 426.5 L739.5 400" fill="none" stroke="#1c1c1c" stroke-width="1.3"/>
<path d="M738 426.5 C738.1 434.1 738.2 461.6 738.5 472 C738.8 482.4 738.9 485.7 739.5 489 C740.1 492.3 740.9 491.6 742 492 C743.1 492.4 745.3 491.6 746 491.5" fill="none" stroke="#1c1c1c" stroke-width="1.4"/>
<path d="M746 491.5 L747 480 L749 479 L762 483 L750 490 L746 491.5" fill="none" stroke="#1c1c1c" stroke-width="1.2"/>
<path d="M727 400 C727.1 401.7 727.8 407.3 727.5 410 C727.2 412.7 729.6 412.8 725 416 C720.4 419.2 704.2 426.8 700 429" fill="none" stroke="#1c1c1c" stroke-width="1.3"/>
<path d="M730 400 C730 401.8 730.5 408.1 730 411 C729.5 413.9 732 414.1 727 417.5 C722 420.9 704.5 428.9 700 431.2" fill="none" stroke="#1c1c1c" stroke-width="1.2"/>
<path d="M712 400 L725 416" fill="none" stroke="#1c1c1c" stroke-width="1.2"/>
<path d="M700 404.8 L710 400" fill="none" stroke="#1c1c1c" stroke-width="1.2"/>
<path d="M700 417 L727 403" fill="none" stroke="#1c1c1c" stroke-width="1.2"/>
<path d="M735.5 425 L700 444" fill="none" stroke="#1c1c1c" stroke-width="1.6"/>
<path d="M747 400 C749.2 402.5 754.5 410.5 760 415 C765.5 419.5 773.3 424.2 780 427 C786.7 429.8 796.7 430.8 800 431.5" fill="none" stroke="#1c1c1c" stroke-width="1.5"/>
<path d="M750 400 C752 402.2 756.8 408.8 762 413 C767.2 417.2 774.7 422.3 781 425 C787.3 427.7 796.8 428.3 800 429" fill="none" stroke="#1c1c1c" stroke-width="1.2"/>
<path d="M762 413 L788 400" fill="none" stroke="#1c1c1c" stroke-width="1.6"/>
<path d="M780 427 C780.5 429.2 781.8 436.7 783 440 C784.2 443.3 784.2 444.8 787 447 C789.8 449.2 797.8 452 800 453" fill="none" stroke="#1c1c1c" stroke-width="1.3"/>
<path d="M783 440 L800 442" fill="none" stroke="#1c1c1c" stroke-width="1.2"/>
<path d="M788 448 L800 451" fill="none" stroke="#1c1c1c" stroke-width="1.2"/>
<path d="M739.5 473 L800 488" fill="none" stroke="#1c1c1c" stroke-width="1.5"/>
<path d="M749 479 L800 492" fill="none" stroke="#1c1c1c" stroke-width="1.2"/>
<path d="M767 485 L772 491.5" fill="none" stroke="#1c1c1c" stroke-width="2.0"/>
<path d="M772 486.2 L777 492.7" fill="none" stroke="#1c1c1c" stroke-width="2.0"/>
<path d="M777 487.4 L782 493.9" fill="none" stroke="#1c1c1c" stroke-width="2.0"/>
<path d="M782 488.6 L787 495.1" fill="none" stroke="#1c1c1c" stroke-width="2.0"/>
<path d="M787 489.8 L792 496.3" fill="none" stroke="#1c1c1c" stroke-width="2.0"/>
<path d="M766 484.5 L790 490.5" fill="none" stroke="#1c1c1c" stroke-width="1.2"/>
<path d="M770 492 L790 496" fill="none" stroke="#1c1c1c" stroke-width="1.2"/>
<path d="M700 483 C701 483 704.2 482.5 706 483 C707.8 483.5 710 484.8 711 486 C712 487.2 712.2 487.7 712 490 C711.8 492.3 710.3 498.3 710 500" fill="none" stroke="#1c1c1c" stroke-width="1.4"/>
<path d="M700 487 C701 487.1 704.5 487 706 487.8 C707.5 488.6 708.5 491.3 709 492" fill="none" stroke="#1c1c1c" stroke-width="1.2"/>
<path d="M733 500 L737 496 L745 495" fill="none" stroke="#1c1c1c" stroke-width="1.2"/>
<path d="M743 517 L783 500" fill="none" stroke="#1c1c1c" stroke-width="1.4"/>
<path d="M743 519 L796 532 L800 530" fill="none" stroke="#1c1c1c" stroke-width="1.5"/>
<path d="M796 532 C796.1 532.3 796.4 527.3 796.5 534 C796.6 540.7 796.2 565 796.5 572 C796.8 579 797.4 575.2 798 576 C798.6 576.8 799.7 576.8 800 577" fill="none" stroke="#444" stroke-width="1.6"/>
<path d="M743 517 C742.6 517.5 741.2 516.5 740.5 520 C739.8 523.5 739.4 534.9 738.5 538 C737.6 541.1 735.3 538 735 538.5 C734.7 539 735.8 540.4 736.5 541 C737.2 541.6 738.4 541.7 739.5 542 C740.6 542.3 741.9 542.2 743 543 C744.1 543.8 744.2 537.5 746 547 C747.8 556.5 752.7 591.2 754 600" fill="none" stroke="#1c1c1c" stroke-width="1.4"/>
<path d="M741 544 L750 600" fill="none" stroke="#1c1c1c" stroke-width="1.2"/>
<path d="M740 520 L738.5 537" fill="none" stroke="#1c1c1c" stroke-width="1.2"/>
<path d="M754.5 517.5 C753.8 516.9 751.8 518.2 756 516 C760.2 513.8 775.5 505.8 780 504 C784.5 502.2 782.3 503.5 783 505 C783.7 506.5 784.5 510.5 784 513 C783.5 515.5 781.7 518.4 780 520 C778.3 521.6 777.3 522.6 774 522.5 C770.7 522.4 763.2 520.3 760 519.5 C756.8 518.7 755.2 518.1 754.5 517.5 Z" fill="none" stroke="#1c1c1c" stroke-width="1.3"/>
<path d="M757.2 518.2 L781.2 506.2" fill="none" stroke="#1c1c1c" stroke-width="1.2"/>
<path d="M783 505 L784 513 L795 517 L796 508 Z" fill="#777" stroke="#1c1c1c" stroke-width="1"/>
<path d="M713 502 L743 517" fill="none" stroke="#1c1c1c" stroke-width="1.3"/>
<path d="M700 514 L740 524" fill="none" stroke="#1c1c1c" stroke-width="1.2"/>
<path d="M700 520 L739 529" fill="none" stroke="#1c1c1c" stroke-width="1.2"/>
<path d="M700 526 L738.5 535" fill="none" stroke="#1c1c1c" stroke-width="1.2"/>
<path d="M700 534 C705.7 535.7 728.2 541.8 734 544 C739.8 546.2 734.2 542.8 734.5 547 C734.8 551.2 736.1 565.2 736 569 C735.9 572.8 734.3 569.8 734 570" fill="none" stroke="#1c1c1c" stroke-width="1.3"/>
<path d="M700 538 L733 547" fill="none" stroke="#1c1c1c" stroke-width="1.2"/>
<path d="M700 554 C706.3 555.5 731.3 561.2 738 563 C744.7 564.8 739.8 564 740 565 C740.2 566 740.2 568.1 739.5 569 C738.8 569.9 742.6 572 736 570.5 C729.4 569 706 561.8 700 560" fill="none" stroke="#1c1c1c" stroke-width="1.3"/>
<path d="M700 558 L737 567" fill="none" stroke="#1c1c1c" stroke-width="1.2"/>
<path d="M734.5 547 L740 544 L740.5 564" fill="none" stroke="#1c1c1c" stroke-width="1.2"/>
<path d="M736 570.5 L743 600" fill="none" stroke="#1c1c1c" stroke-width="1.2"/>
<path d="M734 570 L740 600" fill="none" stroke="#1c1c1c" stroke-width="1.2"/>
<path d="M700 581 L732 596 L735 600" fill="none" stroke="#1c1c1c" stroke-width="1.4"/>
<path d="M700 584 L730 598" fill="none" stroke="#1c1c1c" stroke-width="1.2"/>
<path d="M700 587 L728 600" fill="none" stroke="#1c1c1c" stroke-width="1.4"/>
<path d="M700 504 C700.7 504.3 702.5 506.2 704 506 C705.5 505.8 708 504 709 503 C710 502 709.8 500.5 710 500" fill="none" stroke="#1c1c1c" stroke-width="1.3"/>
<path d="M726 500.5 L733 503" fill="none" stroke="#1c1c1c" stroke-width="1.8"/>
<path d="M732 501.3 L739 503.8" fill="none" stroke="#1c1c1c" stroke-width="1.8"/>
<path d="M738 502.1 L745 504.6" fill="none" stroke="#1c1c1c" stroke-width="1.8"/>
<path d="M744 502.9 L751 505.4" fill="none" stroke="#1c1c1c" stroke-width="1.8"/>
<path d="M750 503.7 L757 506.2" fill="none" stroke="#1c1c1c" stroke-width="1.8"/>
<path d="M756 504.5 L763 507" fill="none" stroke="#1c1c1c" stroke-width="1.8"/>
<path d="M713 502 L725 500" fill="none" stroke="#1c1c1c" stroke-width="1.2"/>
<rect x="800" y="400" width="100" height="200" fill="#fff" stroke="none"/>
<path d="M832 400 C832.5 400.5 833.3 401.8 835 403 C836.7 404.2 838.8 406.3 842 407.5 C845.2 408.7 851.4 409.2 854 410 C856.6 410.8 856.7 411 857.5 412 C858.3 413 858.2 413 859 416 C859.8 419 861 426.8 862 430 C863 433.2 861.7 433.2 865 435 C868.3 436.8 879.2 440 882 441" fill="none" stroke="#1c1c1c" stroke-width="1.5"/>
<path d="M800 430 L803 429 L840 409 L842 407.5" fill="none" stroke="#1c1c1c" stroke-width="1.3"/>
<path d="M800 432 C800.3 432.2 798.7 433.8 802 433.5 C805.3 433.2 814 431.9 820 430 C826 428.1 832.3 424.8 838 422 C843.7 419.2 850.8 414.7 854 413 C857.2 411.3 856.9 412.2 857.5 412" fill="none" stroke="#1c1c1c" stroke-width="1.2"/>
<path d="M838 422 L839 420 L840 409" fill="none" stroke="#1c1c1c" stroke-width="1.2"/>
<path d="M838 422 C838.3 423.5 839.3 429 840 431 C840.7 433 841.7 433.5 842 434" fill="none" stroke="#1c1c1c" stroke-width="1.2"/>
<path d="M820 438.5 L842 434 L846 430 L849 431 L849 434 L847 435" fill="none" stroke="#1c1c1c" stroke-width="1.3"/>
<path d="M820 438.5 L864 449 L866 451.5" fill="none" stroke="#1c1c1c" stroke-width="1.3"/>
<path d="M821 442 L862 452" fill="none" stroke="#1c1c1c" stroke-width="1.2"/>
<path d="M820 445 L862 456 L863 460" fill="none" stroke="#1c1c1c" stroke-width="1.3"/>
<ellipse cx="819.5" cy="441.8" rx="1.6" ry="3.2" fill="none" stroke="#1c1c1c" stroke-width="1.2"/>
<path d="M862 454.5 C862.3 455.5 862.7 459.4 864 460.5 C865.3 461.6 867.8 461.8 870 461 C872.2 460.2 876.8 456.7 877.5 455.5 C878.2 454.3 875.9 454.7 874 454 C872.1 453.3 867.3 451.9 866 451.5" fill="none" stroke="#1c1c1c" stroke-width="1.3"/>
<path d="M847 435 L864 449" fill="none" stroke="#1c1c1c" stroke-width="1.2"/>
<path d="M849 434 L870 440 L882 442" fill="none" stroke="#1c1c1c" stroke-width="1.2"/>
<path d="M856 435 L878 440 L883 441" fill="none" stroke="#1c1c1c" stroke-width="1.2"/>
<path d="M870 447 L879 440" fill="none" stroke="#1c1c1c" stroke-width="1.2"/>
<path d="M800 442 L818 440" fill="none" stroke="#1c1c1c" stroke-width="1.2"/>
<path d="M800 447 L818.5 444.5" fill="none" stroke="#1c1c1c" stroke-width="1.2"/>
<path d="M800 452 L843 462 L850 460 L862 461" fill="none" stroke="#1c1c1c" stroke-width="1.2"/>
<path d="M800 449 L844 460" fill="none" stroke="#1c1c1c" stroke-width="1.2"/>
<path d="M800 486 L850 460" fill="none" stroke="#1c1c1c" stroke-width="1.5"/>
<path d="M878 449 L900 433" fill="none" stroke="#1c1c1c" stroke-width="1.4"/>
<path d="M879 452 L900 439" fill="none" stroke="#1c1c1c" stroke-width="1.2"/>
<path d="M870 447 L878 449 L879 452 L883 454 L888 455" fill="none" stroke="#1c1c1c" stroke-width="1.3"/>
<path d="M806 498.5 L885 457.5" fill="none" stroke="#1c1c1c" stroke-width="2.2"/>
<path d="M807 496.8 L884 456.2" fill="none" stroke="#1c1c1c" stroke-width="1.0"/>
<path d="M809.5 499.5 L887 459.2" fill="none" stroke="#1c1c1c" stroke-width="1.0"/>
<ellipse cx="887.5" cy="457.2" rx="1.5" ry="0.9" fill="#222" stroke="#1c1c1c" stroke-width="2" transform="rotate(-25 887.5 457.2)"/>
<ellipse cx="895.5" cy="459.2" rx="1.1" ry="0.8" fill="#222" stroke="#1c1c1c" stroke-width="2"/>
<ellipse cx="808.5" cy="498.5" rx="2.2" ry="1.6" fill="none" stroke="#1c1c1c" stroke-width="2.2" transform="rotate(-25 808.5 498.5)"/>
<path d="M880 471.5 C880.5 471.1 880.8 470.2 883 469 C885.2 467.8 890.2 464.8 893 464 C895.8 463.2 898.8 464 900 464" fill="none" stroke="#1c1c1c" stroke-width="1.3"/>
<path d="M882.2 473 L894 466" fill="none" stroke="#1c1c1c" stroke-width="1.2"/>
<path d="M893 464 C893.5 466 894.8 473.3 896 476 C897.2 478.7 899.3 479.3 900 480" fill="none" stroke="#1c1c1c" stroke-width="1.2"/>
<path d="M880 471.5 C880.2 471.8 880 473.1 881 473.5 C882 473.9 885.2 473.9 886 474" fill="none" stroke="#1c1c1c" stroke-width="1.2"/>
<path d="M840 494 C845 491.3 861.7 480.8 870 478 C878.3 475.2 886 476.8 890 477 C894 477.2 893.7 477.7 894 479 C894.3 480.3 893.3 483.2 892 485 C890.7 486.8 889.8 487.5 886 490 C882.2 492.5 871.8 498.3 869 500" fill="none" stroke="#1c1c1c" stroke-width="1.3"/>
<path d="M842 496.2 L872 480 L885 489" fill="none" stroke="#1c1c1c" stroke-width="1.2"/>
<path d="M840 494 L844 500" fill="none" stroke="#1c1c1c" stroke-width="1.2"/>
<path d="M800 500 L806 498.5" fill="none" stroke="#1c1c1c" stroke-width="1.2"/>
<path d="M800 526.5 L850 501" fill="none" stroke="#1c1c1c" stroke-width="1.4"/>
<path d="M800 532.5 L864 500" fill="none" stroke="#1c1c1c" stroke-width="1.4"/>
<path d="M801 512 C801.8 512.3 803.2 513.5 806 514 C808.8 514.5 814 515.7 818 515 C822 514.3 827.5 511.3 830 510 C832.5 508.7 833.2 508 833 507 C832.8 506 830.7 504.8 829 504 C827.3 503.2 824 502.3 823 502" fill="none" stroke="#1c1c1c" stroke-width="1.8"/>
<path d="M813 505 L813 511" fill="none" stroke="#1c1c1c" stroke-width="3"/>
<path d="M821.5 503 L821.5 507.5" fill="none" stroke="#1c1c1c" stroke-width="3"/>
<path d="M804 510 L815 512 L826 508" fill="none" stroke="#1c1c1c" stroke-width="1.2"/>
<path d="M852 503 L854.5 507 L858 507 L870 501" fill="none" stroke="#1c1c1c" stroke-width="1.3"/>
<path d="M800 568 C805.3 561.5 826.2 535.9 832 529 C837.8 522.1 833.9 526.9 835 526.5 C836.1 526.1 837.5 526.1 838.5 526.5 C839.5 526.9 839.6 527.9 841 529 C842.4 530.1 845.5 531.5 847 533 C848.5 534.5 848.8 534.2 850 538 C851.2 541.8 852.8 551.5 854 556 C855.2 560.5 856 562.8 857 565 C858 567.2 858.8 568.3 860 569 C861.2 569.7 857.3 571.8 864 569 C870.7 566.2 894 554.8 900 552" fill="none" stroke="#1c1c1c" stroke-width="1.5"/>
<path d="M802 577 C808 569.3 831 538.2 838 531 C845 523.8 842.5 533.2 844 533.5 C845.5 533.8 846.5 533.1 847 533" fill="none" stroke="#1c1c1c" stroke-width="1.2"/>
<path d="M800 573 L835 528" fill="none" stroke="#1c1c1c" stroke-width="1.2"/>
<path d="M800 576 L805 579 L808 578 L836 535" fill="none" stroke="#1c1c1c" stroke-width="1.3"/>
<path d="M858 561 L900 540" fill="none" stroke="#1c1c1c" stroke-width="1.2"/>
<path d="M860 565 L900 545" fill="none" stroke="#1c1c1c" stroke-width="1.2"/>
<path d="M805 579 L804 600" fill="none" stroke="#1c1c1c" stroke-width="1.4"/>
<path d="M808 580 L807 600" fill="none" stroke="#1c1c1c" stroke-width="1.2"/>
<ellipse cx="841.5" cy="568" rx="10" ry="25" fill="none" stroke="#1c1c1c" stroke-width="1.5" transform="rotate(8 841.5 568)"/>
<ellipse cx="843" cy="568.5" rx="7.8" ry="22.2" fill="none" stroke="#1c1c1c" stroke-width="1.3" transform="rotate(8 843 568.5)"/>
<ellipse cx="840.5" cy="569" rx="8.8" ry="23.5" fill="none" stroke="#555" stroke-width="1.8" transform="rotate(8 840.5 569)"/>
<ellipse cx="817.5" cy="590" rx="10" ry="21.5" fill="none" stroke="#1c1c1c" stroke-width="1.5" transform="rotate(8 817.5 590)"/>
<ellipse cx="819" cy="590.5" rx="7.8" ry="19" fill="none" stroke="#1c1c1c" stroke-width="1.3" transform="rotate(8 819 590.5)"/>
<ellipse cx="816.5" cy="591" rx="8.8" ry="20" fill="none" stroke="#555" stroke-width="1.8" transform="rotate(8 816.5 591)"/>
<path d="M865 600 L900 580" fill="none" stroke="#1c1c1c" stroke-width="1.5"/>
<path d="M885 589 L900 594" fill="none" stroke="#1c1c1c" stroke-width="1.2"/>
</g>
<g class="lb">
<rect x="231" y="189" width="43" height="20" fill="#fff" stroke="#7c7c7c" stroke-width="1"/>
<text x="253.3" y="204.6" text-anchor="middle">50.09</text>
<rect x="228" y="213.5" width="43" height="19" fill="#fff" stroke="#7c7c7c" stroke-width="1"/>
<text x="250.3" y="228.6" text-anchor="middle">50.04</text>
<rect x="228" y="237" width="43" height="19" fill="#fff" stroke="#7c7c7c" stroke-width="1"/>
<text x="250.3" y="252.1" text-anchor="middle">50.01</text>
<rect x="228" y="262" width="23" height="19" fill="#fff" stroke="#7c7c7c" stroke-width="1"/>
<text x="240.3" y="277.1" text-anchor="middle">50</text>
<rect x="373" y="189" width="22.5" height="19.5" fill="#fff" stroke="#7c7c7c" stroke-width="1"/>
<text x="385.1" y="204.3" text-anchor="middle">81</text>
<rect x="373" y="213.5" width="22.5" height="19.5" fill="#fff" stroke="#7c7c7c" stroke-width="1"/>
<text x="385.1" y="228.8" text-anchor="middle">82</text>
<rect x="373" y="261.5" width="22.5" height="19.5" fill="#fff" stroke="#7c7c7c" stroke-width="1"/>
<text x="385.1" y="276.9" text-anchor="middle">80</text>
<rect x="373" y="285.5" width="22.5" height="20.5" fill="#fff" stroke="#7c7c7c" stroke-width="1"/>
<text x="385.1" y="301.4" text-anchor="middle">79</text>
<rect x="453" y="346.5" width="20.5" height="21" fill="#fff" stroke="#7c7c7c" stroke-width="1"/>
<text x="464.1" y="362.6" text-anchor="middle">55</text>
<rect x="453" y="372" width="20.5" height="20" fill="#fff" stroke="#7c7c7c" stroke-width="1"/>
<text x="464.1" y="387.6" text-anchor="middle">56</text>
<rect x="453" y="397" width="20.5" height="20.5" fill="#fff" stroke="#7c7c7c" stroke-width="1"/>
<text x="464.1" y="412.9" text-anchor="middle">57</text>
<rect x="396.5" y="430" width="44" height="19.5" fill="#fff" stroke="#7c7c7c" stroke-width="1"/>
<text x="419.3" y="445.4" text-anchor="middle">50.06</text>
<rect x="394.5" y="453.5" width="21" height="19.5" fill="#fff" stroke="#7c7c7c" stroke-width="1"/>
<text x="405.8" y="468.9" text-anchor="middle">78</text>
<rect x="445" y="453.5" width="43.5" height="19.5" fill="#fff" stroke="#7c7c7c" stroke-width="1"/>
<text x="467.6" y="468.9" text-anchor="middle">50.03</text>
<rect x="445" y="477.5" width="43.5" height="20.5" fill="#fff" stroke="#7c7c7c" stroke-width="1"/>
<text x="467.6" y="493.4" text-anchor="middle">50.02</text>
<rect x="454.5" y="622" width="21" height="21" fill="#fff" stroke="#7c7c7c" stroke-width="1"/>
<text x="465.8" y="638.1" text-anchor="middle">69</text>
<rect x="491" y="622" width="20.5" height="21" fill="#fff" stroke="#7c7c7c" stroke-width="1"/>
<text x="502.1" y="638.1" text-anchor="middle">68</text>
<rect x="527" y="622" width="20.5" height="21" fill="#fff" stroke="#7c7c7c" stroke-width="1"/>
<text x="538" y="638.1" text-anchor="middle">67</text>
<rect x="562.5" y="622" width="20.5" height="21" fill="#fff" stroke="#7c7c7c" stroke-width="1"/>
<text x="573.5" y="638.1" text-anchor="middle">66</text>
<rect x="599" y="622" width="21" height="21" fill="#fff" stroke="#7c7c7c" stroke-width="1"/>
<text x="610.3" y="638.1" text-anchor="middle">65</text>
<rect x="634.5" y="622" width="21" height="21" fill="#fff" stroke="#7c7c7c" stroke-width="1"/>
<text x="645.8" y="638.1" text-anchor="middle">75</text>
<rect x="397.5" y="730" width="43" height="20.5" fill="#fff" stroke="#7c7c7c" stroke-width="1"/>
<text x="419.8" y="745.9" text-anchor="middle">50.08</text>
<rect x="397.5" y="754.5" width="43" height="20.5" fill="#fff" stroke="#7c7c7c" stroke-width="1"/>
<text x="419.8" y="770.4" text-anchor="middle">50.06</text>
<rect x="397.5" y="779" width="20.5" height="20.5" fill="#fff" stroke="#7c7c7c" stroke-width="1"/>
<text x="408.6" y="794.9" text-anchor="middle">51</text>
<rect x="397.5" y="803" width="12" height="20.5" fill="#fff" stroke="#7c7c7c" stroke-width="1"/>
<text x="404.3" y="818.9" text-anchor="middle">7</text>
<rect x="205.5" y="778" width="21.5" height="21.5" fill="#fff" stroke="#7c7c7c" stroke-width="1"/>
<text x="217.1" y="794.4" text-anchor="middle">52</text>
<rect x="213.5" y="805" width="12" height="21" fill="#fff" stroke="#7c7c7c" stroke-width="1"/>
<text x="220.3" y="821.1" text-anchor="middle">5</text>
<rect x="517.5" y="181.5" width="44.5" height="20" fill="#fff" stroke="#7c7c7c" stroke-width="1"/>
<text x="540.5" y="197.1" text-anchor="middle">50.06</text>
<rect x="574" y="204.5" width="12" height="19.5" fill="#fff" stroke="#7c7c7c" stroke-width="1"/>
<text x="580.8" y="219.8" text-anchor="middle">5</text>
<rect x="732" y="179" width="21" height="20" fill="#fff" stroke="#7c7c7c" stroke-width="1"/>
<text x="743.3" y="194.6" text-anchor="middle">53</text>
<rect x="796" y="178.5" width="43" height="20" fill="#fff" stroke="#7c7c7c" stroke-width="1"/>
<text x="818.3" y="194.1" text-anchor="middle">50.06</text>
<rect x="787" y="209" width="11" height="19.5" fill="#fff" stroke="#7c7c7c" stroke-width="1"/>
<text x="793.3" y="224.3" text-anchor="middle">5</text>
<rect x="843" y="309.5" width="20.5" height="20" fill="#fff" stroke="#7c7c7c" stroke-width="1"/>
<text x="854" y="325.1" text-anchor="middle">56</text>
<rect x="843" y="334" width="20.5" height="19.5" fill="#fff" stroke="#7c7c7c" stroke-width="1"/>
<text x="854" y="349.4" text-anchor="middle">55</text>
<rect x="843" y="358" width="20.5" height="19.5" fill="#fff" stroke="#7c7c7c" stroke-width="1"/>
<text x="854" y="373.4" text-anchor="middle">57</text>
</g>
</svg>
</body></html>
